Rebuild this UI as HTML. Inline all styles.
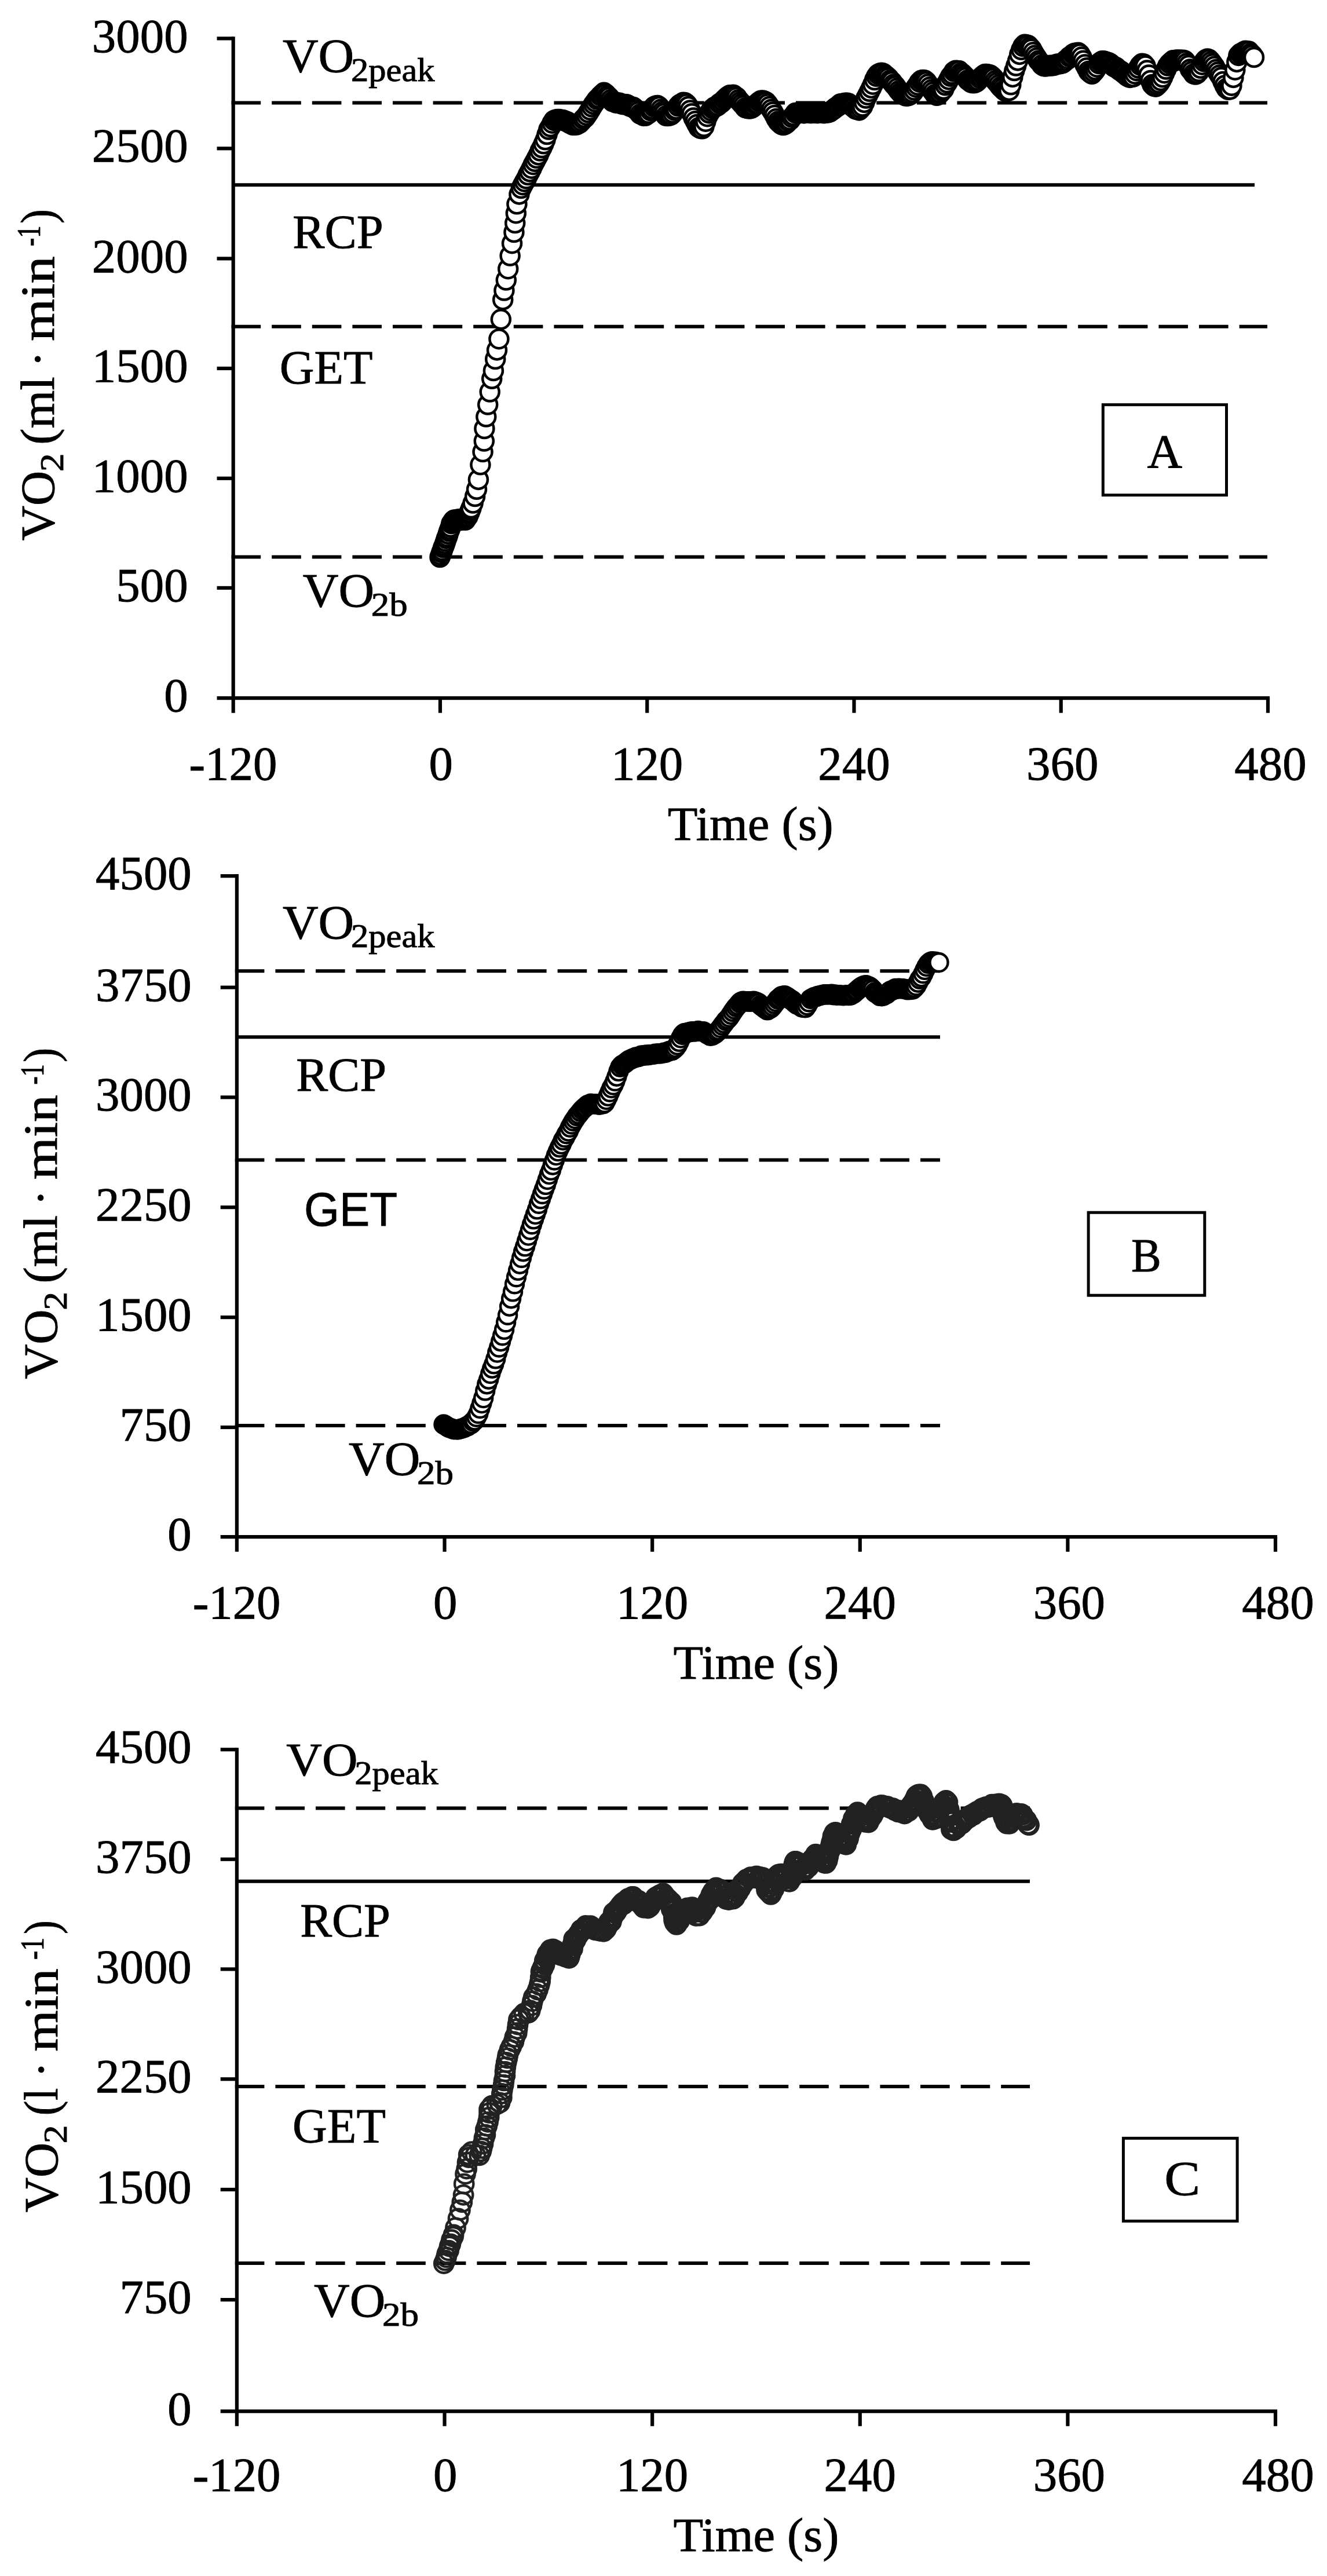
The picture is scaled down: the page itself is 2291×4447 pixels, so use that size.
<!DOCTYPE html>
<html lang="en"><head><meta charset="utf-8"><title>VO2 kinetics</title>
<style>html,body{margin:0;padding:0;background:#fff}svg text{white-space:pre}</style></head>
<body>
<svg width="2291" height="4447" viewBox="0 0 2291 4447" style="display:block;filter:blur(0.75px)">
<rect width="2291" height="4447" fill="#fff"/>
<line x1="402.7" y1="63.3" x2="402.7" y2="1230.7" stroke="#000" stroke-width="6.2"/>
<line x1="374.5" y1="1205.1" x2="2192.1" y2="1205.1" stroke="#000" stroke-width="6.2"/>
<line x1="374.5" y1="66.4" x2="402.7" y2="66.4" stroke="#000" stroke-width="6.2"/>
<line x1="374.5" y1="256.3" x2="402.7" y2="256.3" stroke="#000" stroke-width="6.2"/>
<line x1="374.5" y1="446.4" x2="402.7" y2="446.4" stroke="#000" stroke-width="6.2"/>
<line x1="374.5" y1="636" x2="402.7" y2="636" stroke="#000" stroke-width="6.2"/>
<line x1="374.5" y1="825.8" x2="402.7" y2="825.8" stroke="#000" stroke-width="6.2"/>
<line x1="374.5" y1="1014.9" x2="402.7" y2="1014.9" stroke="#000" stroke-width="6.2"/>
<line x1="759.96" y1="1205.1" x2="759.96" y2="1230.7" stroke="#000" stroke-width="6.2"/>
<line x1="1117.22" y1="1205.1" x2="1117.22" y2="1230.7" stroke="#000" stroke-width="6.2"/>
<line x1="1474.48" y1="1205.1" x2="1474.48" y2="1230.7" stroke="#000" stroke-width="6.2"/>
<line x1="1831.74" y1="1205.1" x2="1831.74" y2="1230.7" stroke="#000" stroke-width="6.2"/>
<line x1="2189" y1="1205.1" x2="2189" y2="1230.7" stroke="#000" stroke-width="6.2"/>
<line x1="399.6" y1="177.5" x2="2188" y2="177.5" stroke="#000" stroke-width="6" stroke-dasharray="50.6 19"/>
<line x1="402.7" y1="319.3" x2="2166" y2="319.3" stroke="#000" stroke-width="6"/>
<line x1="399.6" y1="563.7" x2="2188" y2="563.7" stroke="#000" stroke-width="6" stroke-dasharray="50.6 19"/>
<line x1="399.6" y1="961.5" x2="2188" y2="961.5" stroke="#000" stroke-width="6" stroke-dasharray="50.6 19"/>
<text transform="translate(158.86,89.58) scale(1.0079,1)" font-size="82.22" font-family='"Liberation Serif", serif' stroke="#000" stroke-width="0.9">3000</text>
<text transform="translate(158.86,279.48) scale(1.0079,1)" font-size="82.22" font-family='"Liberation Serif", serif' stroke="#000" stroke-width="0.9">2500</text>
<text transform="translate(158.86,469.58) scale(1.0079,1)" font-size="82.22" font-family='"Liberation Serif", serif' stroke="#000" stroke-width="0.9">2000</text>
<text transform="translate(158.86,659.18) scale(1.0079,1)" font-size="82.22" font-family='"Liberation Serif", serif' stroke="#000" stroke-width="0.9">1500</text>
<text transform="translate(158.86,848.98) scale(1.0079,1)" font-size="82.22" font-family='"Liberation Serif", serif' stroke="#000" stroke-width="0.9">1000</text>
<text transform="translate(200.3,1038.08) scale(1.0079,1)" font-size="82.22" font-family='"Liberation Serif", serif' stroke="#000" stroke-width="0.9">500</text>
<text transform="translate(283.17,1228.28) scale(1.0079,1)" font-size="82.22" font-family='"Liberation Serif", serif' stroke="#000" stroke-width="0.9">0</text>
<text transform="translate(326.47,1345.68) scale(1.0079,1)" font-size="82.22" font-family='"Liberation Serif", serif' stroke="#000" stroke-width="0.9">-120</text>
<text transform="translate(740.44,1345.68) scale(1.0079,1)" font-size="82.22" font-family='"Liberation Serif", serif' stroke="#000" stroke-width="0.9">0</text>
<text transform="translate(1054.99,1345.68) scale(1.0079,1)" font-size="82.22" font-family='"Liberation Serif", serif' stroke="#000" stroke-width="0.9">120</text>
<text transform="translate(1412.32,1345.68) scale(1.0079,1)" font-size="82.22" font-family='"Liberation Serif", serif' stroke="#000" stroke-width="0.9">240</text>
<text transform="translate(1772.07,1345.68) scale(1.0079,1)" font-size="82.22" font-family='"Liberation Serif", serif' stroke="#000" stroke-width="0.9">360</text>
<text transform="translate(2131.37,1345.68) scale(1.0079,1)" font-size="82.22" font-family='"Liberation Serif", serif' stroke="#000" stroke-width="0.9">480</text>
<text transform="translate(1152.87,1449.5) scale(1.0259,1)" font-size="82.44" font-family='"Liberation Serif", serif' fill="#000" stroke="#000" stroke-width="0.9">Time (s)</text>
<text transform="translate(487.95,124.4) scale(1.0437,1)" font-size="81.81" font-family='"Liberation Serif", serif' fill="#000" stroke="#000" stroke-width="0.9">VO</text>
<text transform="translate(605.97,139.9) scale(1.0788,1)" font-size="56.15" font-family='"Liberation Serif", serif' fill="#000" stroke="#000" stroke-width="0.9">2peak</text>
<text transform="translate(505.32,428.2) scale(1.0096,1)" font-size="81.96" font-family='"Liberation Serif", serif' fill="#000" stroke="#000" stroke-width="0.9">RCP</text>
<text transform="translate(482.79,662) scale(0.9992,1)" font-size="82.72" font-family='"Liberation Serif", serif' fill="#000" stroke="#000" stroke-width="0.9">GET</text>
<text transform="translate(522.75,1047.2) scale(1.0418,1)" font-size="81.96" font-family='"Liberation Serif", serif' fill="#000" stroke="#000" stroke-width="0.9">VO</text>
<text transform="translate(640.67,1062.9) scale(1.1219,1)" font-size="56.15" font-family='"Liberation Serif", serif' fill="#000" stroke="#000" stroke-width="0.9">2b</text>
<text transform="translate(92.7,933.13) rotate(-90) scale(1.0175,1)" font-size="81.87" font-family='"Liberation Serif", serif' stroke="#000" stroke-width="0.9">VO</text>
<text transform="translate(109.3,814.17) rotate(-90) scale(1.1345,1)" font-size="56.19" font-family='"Liberation Serif", serif' stroke="#000" stroke-width="0.9">2</text>
<text transform="translate(92.7,767.71) rotate(-90) scale(1.0335,1)" font-size="81.87" font-family='"Liberation Serif", serif' stroke="#000" stroke-width="0.9">(ml</text>
<text transform="translate(92.7,633.58) rotate(-90) scale(0.9979,1)" font-size="81.87" font-family='"Liberation Serif", serif' stroke="#000" stroke-width="0.9">·</text>
<text transform="translate(92.7,588.88) rotate(-90) scale(1.1507,1)" font-size="81.87" font-family='"Liberation Serif", serif' stroke="#000" stroke-width="0.9">min</text>
<text transform="translate(69.2,424.9) rotate(-90) scale(0.7578,1)" font-size="56.19" font-family='"Liberation Serif", serif' stroke="#000" stroke-width="0.9">-1</text>
<text transform="translate(92.7,386.04) rotate(-90) scale(0.9155,1)" font-size="81.87" font-family='"Liberation Serif", serif' stroke="#000" stroke-width="0.9">)</text>
<g fill="#fff" stroke="#000" stroke-width="4.5">
<circle cx="759.5" cy="962.0" r="16"/><circle cx="760.9" cy="958.2" r="16"/><circle cx="762.3" cy="953.9" r="16"/><circle cx="763.8" cy="950.2" r="16"/><circle cx="765.2" cy="945.4" r="16"/><circle cx="766.6" cy="942.6" r="16"/><circle cx="768.0" cy="938.7" r="16"/><circle cx="769.4" cy="934.5" r="16"/><circle cx="770.8" cy="929.7" r="16"/><circle cx="772.3" cy="926.5" r="16"/><circle cx="773.7" cy="921.8" r="16"/><circle cx="775.1" cy="917.1" r="16"/><circle cx="776.5" cy="914.0" r="16"/><circle cx="777.9" cy="909.8" r="16"/><circle cx="779.3" cy="904.0" r="16"/><circle cx="780.8" cy="902.4" r="16"/><circle cx="782.2" cy="899.6" r="16"/><circle cx="783.6" cy="897.9" r="16"/><circle cx="785.0" cy="897.4" r="16"/><circle cx="786.4" cy="898.0" r="16"/><circle cx="787.9" cy="897.4" r="16"/><circle cx="789.3" cy="897.7" r="16"/><circle cx="790.7" cy="897.5" r="16"/><circle cx="792.1" cy="896.3" r="16"/><circle cx="793.5" cy="897.6" r="16"/><circle cx="794.9" cy="898.0" r="16"/><circle cx="796.4" cy="897.9" r="16"/><circle cx="797.8" cy="897.2" r="16"/><circle cx="799.2" cy="896.1" r="16"/><circle cx="800.6" cy="896.0" r="16"/><circle cx="802.0" cy="896.3" r="16"/><circle cx="803.4" cy="897.8" r="16"/><circle cx="804.9" cy="895.3" r="16"/><circle cx="806.3" cy="893.1" r="16"/><circle cx="807.7" cy="891.4" r="16"/><circle cx="809.1" cy="887.4" r="16"/><circle cx="810.5" cy="884.7" r="16"/><circle cx="812.0" cy="880.8" r="16"/><circle cx="813.5" cy="877.0" r="16"/><circle cx="816.6" cy="868.6" r="16"/><circle cx="820.1" cy="857.0" r="16"/><circle cx="823.0" cy="844.8" r="16"/><circle cx="825.9" cy="827.9" r="16"/><circle cx="829.4" cy="802.3" r="16"/><circle cx="833.5" cy="780.1" r="16"/><circle cx="835.8" cy="761.5" r="16"/><circle cx="836.4" cy="740.0" r="16"/><circle cx="839.3" cy="719.6" r="16"/><circle cx="842.2" cy="698.6" r="16"/><circle cx="845.7" cy="676.5" r="16"/><circle cx="849.2" cy="653.8" r="16"/><circle cx="851.9" cy="640.0" r="16"/><circle cx="855.2" cy="620.0" r="16"/><circle cx="858.0" cy="604.4" r="16"/><circle cx="861.4" cy="585.2" r="16"/><circle cx="864.8" cy="551.3" r="16"/><circle cx="868.2" cy="517.4" r="16"/><circle cx="870.4" cy="501.5" r="16"/><circle cx="873.8" cy="483.5" r="16"/><circle cx="877.2" cy="464.2" r="16"/><circle cx="880.6" cy="441.6" r="16"/><circle cx="884.0" cy="420.2" r="16"/><circle cx="887.4" cy="401.0" r="16"/><circle cx="889.2" cy="385.1" r="16"/><circle cx="890.8" cy="368.2" r="16"/><circle cx="892.4" cy="352.3" r="16"/><circle cx="896.4" cy="335.4" r="16"/><circle cx="899.8" cy="325.0" r="16"/><circle cx="902.8" cy="319.2" r="16"/><circle cx="905.8" cy="313.7" r="16"/><circle cx="908.7" cy="308.6" r="16"/><circle cx="911.7" cy="302.0" r="16"/><circle cx="914.7" cy="296.4" r="16"/><circle cx="917.7" cy="290.7" r="16"/><circle cx="920.6" cy="284.2" r="16"/><circle cx="923.6" cy="278.8" r="16"/><circle cx="926.6" cy="273.1" r="16"/><circle cx="929.6" cy="267.4" r="16"/><circle cx="932.5" cy="260.5" r="16"/><circle cx="935.5" cy="255.1" r="16"/><circle cx="938.5" cy="248.3" r="16"/><circle cx="941.5" cy="241.3" r="16"/><circle cx="944.5" cy="232.1" r="16"/><circle cx="947.4" cy="223.5" r="16"/><circle cx="950.4" cy="218.8" r="16"/><circle cx="953.4" cy="212.7" r="16"/><circle cx="956.4" cy="207.9" r="16"/><circle cx="959.3" cy="206.7" r="16"/><circle cx="962.3" cy="206.0" r="16"/><circle cx="965.3" cy="206.1" r="16"/><circle cx="968.3" cy="207.4" r="16"/><circle cx="971.3" cy="207.0" r="16"/><circle cx="974.2" cy="208.2" r="16"/><circle cx="977.2" cy="209.5" r="16"/><circle cx="980.2" cy="210.6" r="16"/><circle cx="983.2" cy="212.9" r="16"/><circle cx="986.1" cy="214.1" r="16"/><circle cx="989.1" cy="215.8" r="16"/><circle cx="992.1" cy="215.6" r="16"/><circle cx="995.1" cy="215.5" r="16"/><circle cx="998.0" cy="214.0" r="16"/><circle cx="1001.0" cy="212.3" r="16"/><circle cx="1004.0" cy="209.2" r="16"/><circle cx="1007.0" cy="205.6" r="16"/><circle cx="1010.0" cy="203.2" r="16"/><circle cx="1012.9" cy="199.1" r="16"/><circle cx="1015.9" cy="194.5" r="16"/><circle cx="1018.9" cy="189.8" r="16"/><circle cx="1021.9" cy="184.6" r="16"/><circle cx="1024.8" cy="180.0" r="16"/><circle cx="1027.8" cy="175.9" r="16"/><circle cx="1030.8" cy="171.6" r="16"/><circle cx="1033.8" cy="169.3" r="16"/><circle cx="1036.7" cy="165.4" r="16"/><circle cx="1039.7" cy="162.7" r="16"/><circle cx="1042.7" cy="159.8" r="16"/><circle cx="1045.7" cy="162.0" r="16"/><circle cx="1048.7" cy="165.3" r="16"/><circle cx="1051.6" cy="168.0" r="16"/><circle cx="1054.6" cy="172.0" r="16"/><circle cx="1057.6" cy="175.3" r="16"/><circle cx="1060.6" cy="175.7" r="16"/><circle cx="1063.5" cy="177.7" r="16"/><circle cx="1066.5" cy="177.5" r="16"/><circle cx="1069.5" cy="177.7" r="16"/><circle cx="1072.5" cy="179.3" r="16"/><circle cx="1075.5" cy="180.2" r="16"/><circle cx="1078.4" cy="179.9" r="16"/><circle cx="1081.4" cy="180.3" r="16"/><circle cx="1084.4" cy="181.6" r="16"/><circle cx="1087.4" cy="183.7" r="16"/><circle cx="1090.3" cy="184.4" r="16"/><circle cx="1093.3" cy="185.0" r="16"/><circle cx="1096.3" cy="187.6" r="16"/><circle cx="1099.3" cy="190.1" r="16"/><circle cx="1102.2" cy="192.9" r="16"/><circle cx="1105.2" cy="196.9" r="16"/><circle cx="1108.2" cy="197.9" r="16"/><circle cx="1111.2" cy="199.9" r="16"/><circle cx="1114.2" cy="199.8" r="16"/><circle cx="1117.1" cy="197.7" r="16"/><circle cx="1120.1" cy="195.8" r="16"/><circle cx="1123.1" cy="191.1" r="16"/><circle cx="1126.1" cy="188.4" r="16"/><circle cx="1129.0" cy="184.3" r="16"/><circle cx="1132.0" cy="182.8" r="16"/><circle cx="1135.0" cy="182.1" r="16"/><circle cx="1138.0" cy="184.1" r="16"/><circle cx="1141.0" cy="188.8" r="16"/><circle cx="1143.9" cy="192.7" r="16"/><circle cx="1146.9" cy="195.8" r="16"/><circle cx="1149.9" cy="199.9" r="16"/><circle cx="1152.9" cy="200.0" r="16"/><circle cx="1155.8" cy="199.6" r="16"/><circle cx="1158.8" cy="198.4" r="16"/><circle cx="1161.8" cy="195.1" r="16"/><circle cx="1164.8" cy="190.6" r="16"/><circle cx="1167.7" cy="188.4" r="16"/><circle cx="1170.7" cy="183.3" r="16"/><circle cx="1173.7" cy="180.2" r="16"/><circle cx="1176.7" cy="178.7" r="16"/><circle cx="1179.7" cy="176.8" r="16"/><circle cx="1182.6" cy="177.3" r="16"/><circle cx="1185.6" cy="179.6" r="16"/><circle cx="1188.6" cy="184.0" r="16"/><circle cx="1191.6" cy="190.5" r="16"/><circle cx="1194.5" cy="196.2" r="16"/><circle cx="1197.5" cy="203.4" r="16"/><circle cx="1200.5" cy="209.3" r="16"/><circle cx="1203.5" cy="215.0" r="16"/><circle cx="1206.4" cy="220.2" r="16"/><circle cx="1209.4" cy="221.9" r="16"/><circle cx="1212.4" cy="222.3" r="16"/><circle cx="1215.4" cy="218.5" r="16"/><circle cx="1218.4" cy="209.7" r="16"/><circle cx="1221.3" cy="201.2" r="16"/><circle cx="1224.3" cy="195.4" r="16"/><circle cx="1227.3" cy="191.2" r="16"/><circle cx="1230.3" cy="187.4" r="16"/><circle cx="1233.2" cy="185.1" r="16"/><circle cx="1236.2" cy="184.0" r="16"/><circle cx="1239.2" cy="182.4" r="16"/><circle cx="1242.2" cy="178.7" r="16"/><circle cx="1245.2" cy="177.5" r="16"/><circle cx="1248.1" cy="174.6" r="16"/><circle cx="1251.1" cy="171.4" r="16"/><circle cx="1254.1" cy="168.6" r="16"/><circle cx="1257.1" cy="165.9" r="16"/><circle cx="1260.0" cy="164.2" r="16"/><circle cx="1263.0" cy="165.0" r="16"/><circle cx="1266.0" cy="163.7" r="16"/><circle cx="1269.0" cy="166.1" r="16"/><circle cx="1271.9" cy="167.9" r="16"/><circle cx="1274.9" cy="172.3" r="16"/><circle cx="1277.9" cy="175.7" r="16"/><circle cx="1280.9" cy="179.0" r="16"/><circle cx="1283.9" cy="182.3" r="16"/><circle cx="1286.8" cy="186.2" r="16"/><circle cx="1289.8" cy="186.8" r="16"/><circle cx="1292.8" cy="187.5" r="16"/><circle cx="1295.8" cy="187.3" r="16"/><circle cx="1298.7" cy="186.1" r="16"/><circle cx="1301.7" cy="183.5" r="16"/><circle cx="1304.7" cy="180.4" r="16"/><circle cx="1307.7" cy="179.1" r="16"/><circle cx="1310.6" cy="175.7" r="16"/><circle cx="1313.6" cy="173.8" r="16"/><circle cx="1316.6" cy="173.6" r="16"/><circle cx="1319.6" cy="174.5" r="16"/><circle cx="1322.6" cy="175.9" r="16"/><circle cx="1325.5" cy="179.4" r="16"/><circle cx="1328.5" cy="183.9" r="16"/><circle cx="1331.5" cy="189.1" r="16"/><circle cx="1334.5" cy="193.4" r="16"/><circle cx="1337.4" cy="199.0" r="16"/><circle cx="1340.4" cy="204.9" r="16"/><circle cx="1343.4" cy="209.5" r="16"/><circle cx="1346.4" cy="212.5" r="16"/><circle cx="1349.4" cy="215.1" r="16"/><circle cx="1352.3" cy="216.1" r="16"/><circle cx="1355.3" cy="214.8" r="16"/><circle cx="1358.3" cy="212.5" r="16"/><circle cx="1361.3" cy="209.2" r="16"/><circle cx="1364.2" cy="207.0" r="16"/><circle cx="1367.2" cy="202.7" r="16"/><circle cx="1370.2" cy="199.5" r="16"/><circle cx="1373.2" cy="195.1" r="16"/><circle cx="1376.1" cy="194.8" r="16"/><circle cx="1379.1" cy="194.5" r="16"/><circle cx="1382.1" cy="194.9" r="16"/><circle cx="1385.1" cy="194.2" r="16"/><circle cx="1388.1" cy="195.4" r="16"/><circle cx="1391.0" cy="193.7" r="16"/><circle cx="1394.0" cy="194.6" r="16"/><circle cx="1397.0" cy="194.9" r="16"/><circle cx="1400.0" cy="195.2" r="16"/><circle cx="1402.9" cy="194.9" r="16"/><circle cx="1405.9" cy="194.9" r="16"/><circle cx="1408.9" cy="195.0" r="16"/><circle cx="1411.9" cy="195.2" r="16"/><circle cx="1414.8" cy="194.2" r="16"/><circle cx="1417.8" cy="194.8" r="16"/><circle cx="1420.8" cy="195.2" r="16"/><circle cx="1423.8" cy="195.2" r="16"/><circle cx="1426.8" cy="194.3" r="16"/><circle cx="1429.7" cy="194.4" r="16"/><circle cx="1432.7" cy="193.4" r="16"/><circle cx="1435.7" cy="191.2" r="16"/><circle cx="1438.7" cy="189.2" r="16"/><circle cx="1441.6" cy="186.6" r="16"/><circle cx="1444.6" cy="184.7" r="16"/><circle cx="1447.6" cy="182.5" r="16"/><circle cx="1450.6" cy="179.5" r="16"/><circle cx="1453.6" cy="178.9" r="16"/><circle cx="1456.5" cy="178.4" r="16"/><circle cx="1459.5" cy="177.7" r="16"/><circle cx="1462.5" cy="177.8" r="16"/><circle cx="1465.5" cy="178.7" r="16"/><circle cx="1468.4" cy="181.4" r="16"/><circle cx="1471.4" cy="183.6" r="16"/><circle cx="1474.4" cy="185.8" r="16"/><circle cx="1477.4" cy="188.7" r="16"/><circle cx="1480.3" cy="188.8" r="16"/><circle cx="1483.3" cy="190.4" r="16"/><circle cx="1486.3" cy="187.1" r="16"/><circle cx="1489.3" cy="183.5" r="16"/><circle cx="1492.3" cy="176.9" r="16"/><circle cx="1495.2" cy="169.5" r="16"/><circle cx="1498.2" cy="163.8" r="16"/><circle cx="1501.2" cy="157.8" r="16"/><circle cx="1504.2" cy="151.9" r="16"/><circle cx="1507.1" cy="145.7" r="16"/><circle cx="1510.1" cy="138.0" r="16"/><circle cx="1513.1" cy="131.8" r="16"/><circle cx="1516.1" cy="128.0" r="16"/><circle cx="1519.1" cy="126.5" r="16"/><circle cx="1522.0" cy="125.7" r="16"/><circle cx="1525.0" cy="126.7" r="16"/><circle cx="1528.0" cy="129.8" r="16"/><circle cx="1531.0" cy="131.8" r="16"/><circle cx="1533.9" cy="134.4" r="16"/><circle cx="1536.9" cy="138.5" r="16"/><circle cx="1539.9" cy="141.1" r="16"/><circle cx="1542.9" cy="145.5" r="16"/><circle cx="1545.8" cy="148.4" r="16"/><circle cx="1548.8" cy="152.6" r="16"/><circle cx="1551.8" cy="156.7" r="16"/><circle cx="1554.8" cy="160.0" r="16"/><circle cx="1557.8" cy="162.6" r="16"/><circle cx="1560.7" cy="163.8" r="16"/><circle cx="1563.7" cy="165.6" r="16"/><circle cx="1566.7" cy="165.7" r="16"/><circle cx="1569.7" cy="164.6" r="16"/><circle cx="1572.6" cy="162.8" r="16"/><circle cx="1575.6" cy="159.9" r="16"/><circle cx="1578.6" cy="155.6" r="16"/><circle cx="1581.6" cy="150.7" r="16"/><circle cx="1584.5" cy="146.7" r="16"/><circle cx="1587.5" cy="141.7" r="16"/><circle cx="1590.5" cy="138.7" r="16"/><circle cx="1593.5" cy="137.9" r="16"/><circle cx="1596.5" cy="138.4" r="16"/><circle cx="1599.4" cy="140.9" r="16"/><circle cx="1602.4" cy="145.2" r="16"/><circle cx="1605.4" cy="150.2" r="16"/><circle cx="1608.4" cy="154.8" r="16"/><circle cx="1611.3" cy="158.8" r="16"/><circle cx="1614.3" cy="163.0" r="16"/><circle cx="1617.3" cy="164.8" r="16"/><circle cx="1620.3" cy="163.4" r="16"/><circle cx="1623.3" cy="160.5" r="16"/><circle cx="1626.2" cy="157.0" r="16"/><circle cx="1629.2" cy="154.0" r="16"/><circle cx="1632.2" cy="147.3" r="16"/><circle cx="1635.2" cy="143.1" r="16"/><circle cx="1638.1" cy="137.4" r="16"/><circle cx="1641.1" cy="131.8" r="16"/><circle cx="1644.1" cy="128.3" r="16"/><circle cx="1647.1" cy="123.5" r="16"/><circle cx="1650.0" cy="121.7" r="16"/><circle cx="1653.0" cy="122.0" r="16"/><circle cx="1656.0" cy="122.3" r="16"/><circle cx="1659.0" cy="125.9" r="16"/><circle cx="1662.0" cy="127.6" r="16"/><circle cx="1664.9" cy="130.7" r="16"/><circle cx="1667.9" cy="133.8" r="16"/><circle cx="1670.9" cy="138.0" r="16"/><circle cx="1673.9" cy="140.3" r="16"/><circle cx="1676.8" cy="142.5" r="16"/><circle cx="1679.8" cy="143.3" r="16"/><circle cx="1682.8" cy="143.0" r="16"/><circle cx="1685.8" cy="141.6" r="16"/><circle cx="1688.7" cy="138.8" r="16"/><circle cx="1691.7" cy="135.2" r="16"/><circle cx="1694.7" cy="133.0" r="16"/><circle cx="1697.7" cy="130.0" r="16"/><circle cx="1700.7" cy="127.9" r="16"/><circle cx="1703.6" cy="128.0" r="16"/><circle cx="1706.6" cy="128.8" r="16"/><circle cx="1709.6" cy="129.4" r="16"/><circle cx="1712.6" cy="131.9" r="16"/><circle cx="1715.5" cy="135.0" r="16"/><circle cx="1718.5" cy="139.1" r="16"/><circle cx="1721.5" cy="142.4" r="16"/><circle cx="1724.5" cy="146.3" r="16"/><circle cx="1727.5" cy="150.1" r="16"/><circle cx="1730.4" cy="152.6" r="16"/><circle cx="1733.4" cy="155.9" r="16"/><circle cx="1736.4" cy="157.9" r="16"/><circle cx="1739.4" cy="157.2" r="16"/><circle cx="1742.3" cy="156.0" r="16"/><circle cx="1745.3" cy="146.3" r="16"/><circle cx="1748.3" cy="132.9" r="16"/><circle cx="1751.3" cy="122.1" r="16"/><circle cx="1754.2" cy="113.6" r="16"/><circle cx="1757.2" cy="104.4" r="16"/><circle cx="1760.2" cy="93.9" r="16"/><circle cx="1763.2" cy="85.8" r="16"/><circle cx="1766.2" cy="80.0" r="16"/><circle cx="1769.1" cy="76.7" r="16"/><circle cx="1772.1" cy="77.2" r="16"/><circle cx="1775.1" cy="78.2" r="16"/><circle cx="1778.1" cy="81.6" r="16"/><circle cx="1781.0" cy="84.8" r="16"/><circle cx="1784.0" cy="90.3" r="16"/><circle cx="1787.0" cy="95.4" r="16"/><circle cx="1790.0" cy="99.9" r="16"/><circle cx="1792.9" cy="104.7" r="16"/><circle cx="1795.9" cy="107.7" r="16"/><circle cx="1798.9" cy="112.0" r="16"/><circle cx="1801.9" cy="114.0" r="16"/><circle cx="1804.9" cy="114.5" r="16"/><circle cx="1807.8" cy="113.6" r="16"/><circle cx="1810.8" cy="113.8" r="16"/><circle cx="1813.8" cy="112.7" r="16"/><circle cx="1816.8" cy="113.4" r="16"/><circle cx="1819.7" cy="112.8" r="16"/><circle cx="1822.7" cy="111.4" r="16"/><circle cx="1825.7" cy="110.4" r="16"/><circle cx="1828.7" cy="110.4" r="16"/><circle cx="1831.7" cy="109.9" r="16"/><circle cx="1834.6" cy="109.1" r="16"/><circle cx="1837.6" cy="106.6" r="16"/><circle cx="1840.6" cy="103.4" r="16"/><circle cx="1843.6" cy="102.1" r="16"/><circle cx="1846.5" cy="98.0" r="16"/><circle cx="1849.5" cy="96.7" r="16"/><circle cx="1852.5" cy="93.3" r="16"/><circle cx="1855.5" cy="91.8" r="16"/><circle cx="1858.4" cy="91.7" r="16"/><circle cx="1861.4" cy="90.7" r="16"/><circle cx="1864.4" cy="93.3" r="16"/><circle cx="1867.4" cy="98.6" r="16"/><circle cx="1870.4" cy="104.8" r="16"/><circle cx="1873.3" cy="111.4" r="16"/><circle cx="1876.3" cy="117.3" r="16"/><circle cx="1879.3" cy="123.0" r="16"/><circle cx="1882.3" cy="125.8" r="16"/><circle cx="1885.2" cy="127.8" r="16"/><circle cx="1888.2" cy="124.4" r="16"/><circle cx="1891.2" cy="120.5" r="16"/><circle cx="1894.2" cy="115.7" r="16"/><circle cx="1897.2" cy="110.1" r="16"/><circle cx="1900.1" cy="106.9" r="16"/><circle cx="1903.1" cy="105.3" r="16"/><circle cx="1906.1" cy="105.4" r="16"/><circle cx="1909.1" cy="106.8" r="16"/><circle cx="1912.0" cy="107.5" r="16"/><circle cx="1915.0" cy="108.6" r="16"/><circle cx="1918.0" cy="110.6" r="16"/><circle cx="1921.0" cy="113.4" r="16"/><circle cx="1923.9" cy="115.5" r="16"/><circle cx="1926.9" cy="116.2" r="16"/><circle cx="1929.9" cy="119.2" r="16"/><circle cx="1932.9" cy="121.4" r="16"/><circle cx="1935.9" cy="123.0" r="16"/><circle cx="1938.8" cy="125.7" r="16"/><circle cx="1941.8" cy="127.7" r="16"/><circle cx="1944.8" cy="130.7" r="16"/><circle cx="1947.8" cy="132.5" r="16"/><circle cx="1950.7" cy="133.9" r="16"/><circle cx="1953.7" cy="133.1" r="16"/><circle cx="1956.7" cy="132.6" r="16"/><circle cx="1959.7" cy="127.7" r="16"/><circle cx="1962.6" cy="122.2" r="16"/><circle cx="1965.6" cy="117.6" r="16"/><circle cx="1968.6" cy="112.6" r="16"/><circle cx="1971.6" cy="109.8" r="16"/><circle cx="1974.6" cy="110.5" r="16"/><circle cx="1977.5" cy="113.6" r="16"/><circle cx="1980.5" cy="121.4" r="16"/><circle cx="1983.5" cy="129.6" r="16"/><circle cx="1986.5" cy="138.9" r="16"/><circle cx="1989.4" cy="145.9" r="16"/><circle cx="1992.4" cy="148.9" r="16"/><circle cx="1995.4" cy="149.7" r="16"/><circle cx="1998.4" cy="146.9" r="16"/><circle cx="2001.4" cy="143.6" r="16"/><circle cx="2004.3" cy="139.1" r="16"/><circle cx="2007.3" cy="133.3" r="16"/><circle cx="2010.3" cy="126.2" r="16"/><circle cx="2013.3" cy="119.6" r="16"/><circle cx="2016.2" cy="113.6" r="16"/><circle cx="2019.2" cy="109.7" r="16"/><circle cx="2022.2" cy="107.0" r="16"/><circle cx="2025.2" cy="104.3" r="16"/><circle cx="2028.1" cy="105.2" r="16"/><circle cx="2031.1" cy="103.6" r="16"/><circle cx="2034.1" cy="103.7" r="16"/><circle cx="2037.1" cy="103.6" r="16"/><circle cx="2040.1" cy="104.4" r="16"/><circle cx="2043.0" cy="103.7" r="16"/><circle cx="2046.0" cy="105.1" r="16"/><circle cx="2049.0" cy="109.2" r="16"/><circle cx="2052.0" cy="113.1" r="16"/><circle cx="2054.9" cy="119.5" r="16"/><circle cx="2057.9" cy="123.2" r="16"/><circle cx="2060.9" cy="127.5" r="16"/><circle cx="2063.9" cy="128.5" r="16"/><circle cx="2066.8" cy="127.0" r="16"/><circle cx="2069.8" cy="123.5" r="16"/><circle cx="2072.8" cy="117.8" r="16"/><circle cx="2075.8" cy="111.7" r="16"/><circle cx="2078.8" cy="106.4" r="16"/><circle cx="2081.7" cy="103.0" r="16"/><circle cx="2084.7" cy="101.4" r="16"/><circle cx="2087.7" cy="102.8" r="16"/><circle cx="2090.7" cy="106.4" r="16"/><circle cx="2093.6" cy="110.3" r="16"/><circle cx="2096.6" cy="114.7" r="16"/><circle cx="2099.6" cy="120.1" r="16"/><circle cx="2102.6" cy="124.6" r="16"/><circle cx="2105.6" cy="129.5" r="16"/><circle cx="2108.5" cy="133.7" r="16"/><circle cx="2111.5" cy="141.0" r="16"/><circle cx="2114.5" cy="147.4" r="16"/><circle cx="2117.5" cy="152.7" r="16"/><circle cx="2120.4" cy="154.8" r="16"/><circle cx="2123.4" cy="154.3" r="16"/><circle cx="2126.4" cy="147.7" r="16"/><circle cx="2129.4" cy="133.9" r="16"/><circle cx="2132.3" cy="120.7" r="16"/><circle cx="2135.3" cy="106.9" r="16"/><circle cx="2138.3" cy="95.9" r="16"/><circle cx="2141.3" cy="92.6" r="16"/><circle cx="2144.3" cy="91.6" r="16"/><circle cx="2147.2" cy="89.2" r="16"/><circle cx="2150.2" cy="87.8" r="16"/><circle cx="2153.2" cy="88.6" r="16"/><circle cx="2156.2" cy="88.6" r="16"/><circle cx="2159.1" cy="92.2" r="16"/><circle cx="2162.1" cy="94.9" r="16"/><circle cx="2165.0" cy="99.0" r="16"/>
</g>
<rect x="1904.3" y="698.7" width="213.2" height="156" fill="#fff" stroke="#000" stroke-width="5"/>
<text transform="translate(1980.46,806.5) scale(1.0244,1)" font-size="81.97" font-family='"Liberation Serif", serif' fill="#000" stroke="#000" stroke-width="0.9">A</text>
<line x1="408.9" y1="1509.1" x2="408.9" y2="2678.8" stroke="#000" stroke-width="6.2"/>
<line x1="380.7" y1="2653.2" x2="2205.1" y2="2653.2" stroke="#000" stroke-width="6.2"/>
<line x1="380.7" y1="1512.2" x2="408.9" y2="1512.2" stroke="#000" stroke-width="6.2"/>
<line x1="380.7" y1="1704.6" x2="408.9" y2="1704.6" stroke="#000" stroke-width="6.2"/>
<line x1="380.7" y1="1894.3" x2="408.9" y2="1894.3" stroke="#000" stroke-width="6.2"/>
<line x1="380.7" y1="2084.2" x2="408.9" y2="2084.2" stroke="#000" stroke-width="6.2"/>
<line x1="380.7" y1="2274.1" x2="408.9" y2="2274.1" stroke="#000" stroke-width="6.2"/>
<line x1="380.7" y1="2464" x2="408.9" y2="2464" stroke="#000" stroke-width="6.2"/>
<line x1="767.52" y1="2653.2" x2="767.52" y2="2678.8" stroke="#000" stroke-width="6.2"/>
<line x1="1126.14" y1="2653.2" x2="1126.14" y2="2678.8" stroke="#000" stroke-width="6.2"/>
<line x1="1484.76" y1="2653.2" x2="1484.76" y2="2678.8" stroke="#000" stroke-width="6.2"/>
<line x1="1843.38" y1="2653.2" x2="1843.38" y2="2678.8" stroke="#000" stroke-width="6.2"/>
<line x1="2202" y1="2653.2" x2="2202" y2="2678.8" stroke="#000" stroke-width="6.2"/>
<line x1="405.8" y1="1676.3" x2="1623" y2="1676.3" stroke="#000" stroke-width="6" stroke-dasharray="50.6 19"/>
<line x1="408.9" y1="1790.3" x2="1623" y2="1790.3" stroke="#000" stroke-width="6"/>
<line x1="405.8" y1="2002.6" x2="1623" y2="2002.6" stroke="#000" stroke-width="6" stroke-dasharray="50.6 19"/>
<line x1="405.8" y1="2460.9" x2="1623" y2="2460.9" stroke="#000" stroke-width="6" stroke-dasharray="50.6 19"/>
<text transform="translate(165.06,1535.38) scale(1.0079,1)" font-size="82.22" font-family='"Liberation Serif", serif' stroke="#000" stroke-width="0.9">4500</text>
<text transform="translate(165.06,1727.78) scale(1.0079,1)" font-size="82.22" font-family='"Liberation Serif", serif' stroke="#000" stroke-width="0.9">3750</text>
<text transform="translate(165.06,1917.48) scale(1.0079,1)" font-size="82.22" font-family='"Liberation Serif", serif' stroke="#000" stroke-width="0.9">3000</text>
<text transform="translate(165.06,2107.38) scale(1.0079,1)" font-size="82.22" font-family='"Liberation Serif", serif' stroke="#000" stroke-width="0.9">2250</text>
<text transform="translate(165.06,2297.28) scale(1.0079,1)" font-size="82.22" font-family='"Liberation Serif", serif' stroke="#000" stroke-width="0.9">1500</text>
<text transform="translate(206.5,2487.18) scale(1.0079,1)" font-size="82.22" font-family='"Liberation Serif", serif' stroke="#000" stroke-width="0.9">750</text>
<text transform="translate(289.37,2676.38) scale(1.0079,1)" font-size="82.22" font-family='"Liberation Serif", serif' stroke="#000" stroke-width="0.9">0</text>
<text transform="translate(332.67,2793.78) scale(1.0079,1)" font-size="82.22" font-family='"Liberation Serif", serif' stroke="#000" stroke-width="0.9">-120</text>
<text transform="translate(748,2793.78) scale(1.0079,1)" font-size="82.22" font-family='"Liberation Serif", serif' stroke="#000" stroke-width="0.9">0</text>
<text transform="translate(1063.91,2793.78) scale(1.0079,1)" font-size="82.22" font-family='"Liberation Serif", serif' stroke="#000" stroke-width="0.9">120</text>
<text transform="translate(1422.6,2793.78) scale(1.0079,1)" font-size="82.22" font-family='"Liberation Serif", serif' stroke="#000" stroke-width="0.9">240</text>
<text transform="translate(1783.71,2793.78) scale(1.0079,1)" font-size="82.22" font-family='"Liberation Serif", serif' stroke="#000" stroke-width="0.9">360</text>
<text transform="translate(2144.37,2793.78) scale(1.0079,1)" font-size="82.22" font-family='"Liberation Serif", serif' stroke="#000" stroke-width="0.9">480</text>
<text transform="translate(1162.47,2897.6) scale(1.0259,1)" font-size="82.44" font-family='"Liberation Serif", serif' fill="#000" stroke="#000" stroke-width="0.9">Time (s)</text>
<text transform="translate(487.95,1619.8) scale(1.0437,1)" font-size="81.81" font-family='"Liberation Serif", serif' fill="#000" stroke="#000" stroke-width="0.9">VO</text>
<text transform="translate(605.97,1635.3) scale(1.0788,1)" font-size="56.15" font-family='"Liberation Serif", serif' fill="#000" stroke="#000" stroke-width="0.9">2peak</text>
<text transform="translate(511.33,1882.5) scale(1.0074,1)" font-size="81.81" font-family='"Liberation Serif", serif' fill="#000" stroke="#000" stroke-width="0.9">RCP</text>
<text transform="translate(525.09,2115.9) scale(0.9580,1)" font-size="81.72" font-family='"Liberation Sans", sans-serif' fill="#000" stroke="#000" stroke-width="0.9">GET</text>
<text transform="translate(602.05,2546.2) scale(1.0418,1)" font-size="81.96" font-family='"Liberation Serif", serif' fill="#000" stroke="#000" stroke-width="0.9">VO</text>
<text transform="translate(719.97,2561.6) scale(1.1219,1)" font-size="56.15" font-family='"Liberation Serif", serif' fill="#000" stroke="#000" stroke-width="0.9">2b</text>
<text transform="translate(98.3,2380.83) rotate(-90) scale(1.0175,1)" font-size="81.87" font-family='"Liberation Serif", serif' stroke="#000" stroke-width="0.9">VO</text>
<text transform="translate(114.9,2261.87) rotate(-90) scale(1.1345,1)" font-size="56.19" font-family='"Liberation Serif", serif' stroke="#000" stroke-width="0.9">2</text>
<text transform="translate(98.3,2215.41) rotate(-90) scale(1.0335,1)" font-size="81.87" font-family='"Liberation Serif", serif' stroke="#000" stroke-width="0.9">(ml</text>
<text transform="translate(98.3,2081.28) rotate(-90) scale(0.9979,1)" font-size="81.87" font-family='"Liberation Serif", serif' stroke="#000" stroke-width="0.9">·</text>
<text transform="translate(98.3,2036.58) rotate(-90) scale(1.1507,1)" font-size="81.87" font-family='"Liberation Serif", serif' stroke="#000" stroke-width="0.9">min</text>
<text transform="translate(74.8,1872.6) rotate(-90) scale(0.7578,1)" font-size="56.19" font-family='"Liberation Serif", serif' stroke="#000" stroke-width="0.9">-1</text>
<text transform="translate(98.3,1833.74) rotate(-90) scale(0.9155,1)" font-size="81.87" font-family='"Liberation Serif", serif' stroke="#000" stroke-width="0.9">)</text>
<g fill="#fff" stroke="#000" stroke-width="4.4">
<circle cx="766.0" cy="2459.0" r="15.5"/><circle cx="769.0" cy="2460.6" r="15.5"/><circle cx="772.0" cy="2462.7" r="15.5"/><circle cx="775.0" cy="2464.6" r="15.5"/><circle cx="778.0" cy="2465.4" r="15.5"/><circle cx="780.9" cy="2466.5" r="15.5"/><circle cx="783.9" cy="2467.7" r="15.5"/><circle cx="786.9" cy="2467.6" r="15.5"/><circle cx="789.9" cy="2468.1" r="15.5"/><circle cx="792.9" cy="2467.3" r="15.5"/><circle cx="795.9" cy="2466.4" r="15.5"/><circle cx="798.9" cy="2465.5" r="15.5"/><circle cx="801.9" cy="2464.6" r="15.5"/><circle cx="804.9" cy="2462.7" r="15.5"/><circle cx="807.8" cy="2461.7" r="15.5"/><circle cx="810.8" cy="2459.3" r="15.5"/><circle cx="813.8" cy="2458.1" r="15.5"/><circle cx="816.8" cy="2454.0" r="15.5"/><circle cx="819.8" cy="2451.9" r="15.5"/><circle cx="822.8" cy="2446.3" r="15.5"/><circle cx="825.8" cy="2440.5" r="15.5"/><circle cx="828.8" cy="2431.5" r="15.5"/><circle cx="831.8" cy="2422.6" r="15.5"/><circle cx="834.7" cy="2413.6" r="15.5"/><circle cx="837.7" cy="2400.9" r="15.5"/><circle cx="840.7" cy="2389.7" r="15.5"/><circle cx="843.7" cy="2381.2" r="15.5"/><circle cx="846.7" cy="2371.5" r="15.5"/><circle cx="849.7" cy="2362.2" r="15.5"/><circle cx="852.7" cy="2354.9" r="15.5"/><circle cx="855.7" cy="2345.9" r="15.5"/><circle cx="858.6" cy="2335.1" r="15.5"/><circle cx="861.6" cy="2326.0" r="15.5"/><circle cx="864.6" cy="2315.7" r="15.5"/><circle cx="867.6" cy="2305.8" r="15.5"/><circle cx="870.6" cy="2295.4" r="15.5"/><circle cx="873.6" cy="2282.8" r="15.5"/><circle cx="876.6" cy="2270.3" r="15.5"/><circle cx="879.6" cy="2255.2" r="15.5"/><circle cx="882.6" cy="2241.7" r="15.5"/><circle cx="885.5" cy="2229.9" r="15.5"/><circle cx="888.5" cy="2216.8" r="15.5"/><circle cx="891.5" cy="2204.8" r="15.5"/><circle cx="894.5" cy="2193.4" r="15.5"/><circle cx="897.5" cy="2182.2" r="15.5"/><circle cx="900.5" cy="2171.5" r="15.5"/><circle cx="903.5" cy="2160.7" r="15.5"/><circle cx="906.5" cy="2151.9" r="15.5"/><circle cx="909.5" cy="2142.6" r="15.5"/><circle cx="912.4" cy="2133.1" r="15.5"/><circle cx="915.4" cy="2123.3" r="15.5"/><circle cx="918.4" cy="2113.8" r="15.5"/><circle cx="921.4" cy="2104.9" r="15.5"/><circle cx="924.4" cy="2096.6" r="15.5"/><circle cx="927.4" cy="2087.9" r="15.5"/><circle cx="930.4" cy="2078.3" r="15.5"/><circle cx="933.4" cy="2069.9" r="15.5"/><circle cx="936.4" cy="2061.5" r="15.5"/><circle cx="939.3" cy="2053.3" r="15.5"/><circle cx="942.3" cy="2045.4" r="15.5"/><circle cx="945.3" cy="2036.6" r="15.5"/><circle cx="948.3" cy="2027.6" r="15.5"/><circle cx="951.3" cy="2020.4" r="15.5"/><circle cx="954.3" cy="2011.2" r="15.5"/><circle cx="957.3" cy="2003.0" r="15.5"/><circle cx="960.3" cy="1994.6" r="15.5"/><circle cx="963.3" cy="1987.6" r="15.5"/><circle cx="966.2" cy="1980.9" r="15.5"/><circle cx="969.2" cy="1975.4" r="15.5"/><circle cx="972.2" cy="1968.6" r="15.5"/><circle cx="975.2" cy="1963.8" r="15.5"/><circle cx="978.2" cy="1957.8" r="15.5"/><circle cx="981.2" cy="1953.1" r="15.5"/><circle cx="984.2" cy="1946.3" r="15.5"/><circle cx="987.2" cy="1941.0" r="15.5"/><circle cx="990.1" cy="1935.8" r="15.5"/><circle cx="993.1" cy="1931.6" r="15.5"/><circle cx="996.1" cy="1926.8" r="15.5"/><circle cx="999.1" cy="1923.6" r="15.5"/><circle cx="1002.1" cy="1919.4" r="15.5"/><circle cx="1005.1" cy="1915.9" r="15.5"/><circle cx="1008.1" cy="1912.9" r="15.5"/><circle cx="1011.1" cy="1910.8" r="15.5"/><circle cx="1014.1" cy="1907.8" r="15.5"/><circle cx="1017.0" cy="1907.0" r="15.5"/><circle cx="1020.0" cy="1905.1" r="15.5"/><circle cx="1023.0" cy="1906.3" r="15.5"/><circle cx="1026.0" cy="1905.6" r="15.5"/><circle cx="1029.0" cy="1905.6" r="15.5"/><circle cx="1032.0" cy="1906.7" r="15.5"/><circle cx="1035.0" cy="1907.2" r="15.5"/><circle cx="1038.0" cy="1905.9" r="15.5"/><circle cx="1041.0" cy="1905.9" r="15.5"/><circle cx="1043.9" cy="1904.0" r="15.5"/><circle cx="1046.9" cy="1898.6" r="15.5"/><circle cx="1049.9" cy="1892.4" r="15.5"/><circle cx="1052.9" cy="1885.3" r="15.5"/><circle cx="1055.9" cy="1878.6" r="15.5"/><circle cx="1058.9" cy="1873.3" r="15.5"/><circle cx="1061.9" cy="1866.5" r="15.5"/><circle cx="1064.9" cy="1858.2" r="15.5"/><circle cx="1067.9" cy="1849.4" r="15.5"/><circle cx="1070.8" cy="1842.2" r="15.5"/><circle cx="1073.8" cy="1838.8" r="15.5"/><circle cx="1076.8" cy="1837.1" r="15.5"/><circle cx="1079.8" cy="1834.9" r="15.5"/><circle cx="1082.8" cy="1832.6" r="15.5"/><circle cx="1085.8" cy="1830.1" r="15.5"/><circle cx="1088.8" cy="1829.0" r="15.5"/><circle cx="1091.8" cy="1827.5" r="15.5"/><circle cx="1094.8" cy="1826.5" r="15.5"/><circle cx="1097.7" cy="1824.9" r="15.5"/><circle cx="1100.7" cy="1825.0" r="15.5"/><circle cx="1103.7" cy="1824.1" r="15.5"/><circle cx="1106.7" cy="1822.3" r="15.5"/><circle cx="1109.7" cy="1821.9" r="15.5"/><circle cx="1112.7" cy="1822.3" r="15.5"/><circle cx="1115.7" cy="1821.0" r="15.5"/><circle cx="1118.7" cy="1821.7" r="15.5"/><circle cx="1121.7" cy="1820.7" r="15.5"/><circle cx="1124.6" cy="1820.7" r="15.5"/><circle cx="1127.6" cy="1820.4" r="15.5"/><circle cx="1130.6" cy="1819.3" r="15.5"/><circle cx="1133.6" cy="1819.1" r="15.5"/><circle cx="1136.6" cy="1818.7" r="15.5"/><circle cx="1139.6" cy="1819.0" r="15.5"/><circle cx="1142.6" cy="1818.6" r="15.5"/><circle cx="1145.6" cy="1817.1" r="15.5"/><circle cx="1148.5" cy="1817.6" r="15.5"/><circle cx="1151.5" cy="1816.1" r="15.5"/><circle cx="1154.5" cy="1814.8" r="15.5"/><circle cx="1157.5" cy="1814.0" r="15.5"/><circle cx="1160.5" cy="1813.5" r="15.5"/><circle cx="1163.5" cy="1811.3" r="15.5"/><circle cx="1166.5" cy="1808.6" r="15.5"/><circle cx="1169.5" cy="1804.2" r="15.5"/><circle cx="1172.5" cy="1798.4" r="15.5"/><circle cx="1175.4" cy="1792.1" r="15.5"/><circle cx="1178.4" cy="1786.5" r="15.5"/><circle cx="1181.4" cy="1783.6" r="15.5"/><circle cx="1184.4" cy="1783.3" r="15.5"/><circle cx="1187.4" cy="1782.6" r="15.5"/><circle cx="1190.4" cy="1781.8" r="15.5"/><circle cx="1193.4" cy="1781.0" r="15.5"/><circle cx="1196.4" cy="1780.7" r="15.5"/><circle cx="1199.4" cy="1781.0" r="15.5"/><circle cx="1202.3" cy="1780.5" r="15.5"/><circle cx="1205.3" cy="1779.4" r="15.5"/><circle cx="1208.3" cy="1780.4" r="15.5"/><circle cx="1211.3" cy="1780.7" r="15.5"/><circle cx="1214.3" cy="1780.7" r="15.5"/><circle cx="1217.3" cy="1782.4" r="15.5"/><circle cx="1220.3" cy="1784.7" r="15.5"/><circle cx="1223.3" cy="1786.3" r="15.5"/><circle cx="1226.3" cy="1788.2" r="15.5"/><circle cx="1229.2" cy="1787.7" r="15.5"/><circle cx="1232.2" cy="1786.0" r="15.5"/><circle cx="1235.2" cy="1784.3" r="15.5"/><circle cx="1238.2" cy="1781.3" r="15.5"/><circle cx="1241.2" cy="1778.7" r="15.5"/><circle cx="1244.2" cy="1774.5" r="15.5"/><circle cx="1247.2" cy="1770.3" r="15.5"/><circle cx="1250.2" cy="1766.6" r="15.5"/><circle cx="1253.2" cy="1762.3" r="15.5"/><circle cx="1256.1" cy="1759.6" r="15.5"/><circle cx="1259.1" cy="1756.1" r="15.5"/><circle cx="1262.1" cy="1751.4" r="15.5"/><circle cx="1265.1" cy="1746.7" r="15.5"/><circle cx="1268.1" cy="1742.6" r="15.5"/><circle cx="1271.1" cy="1738.4" r="15.5"/><circle cx="1274.1" cy="1735.3" r="15.5"/><circle cx="1277.1" cy="1731.4" r="15.5"/><circle cx="1280.1" cy="1729.1" r="15.5"/><circle cx="1283.0" cy="1728.3" r="15.5"/><circle cx="1286.0" cy="1728.8" r="15.5"/><circle cx="1289.0" cy="1729.0" r="15.5"/><circle cx="1292.0" cy="1728.8" r="15.5"/><circle cx="1295.0" cy="1729.4" r="15.5"/><circle cx="1298.0" cy="1728.6" r="15.5"/><circle cx="1301.0" cy="1728.2" r="15.5"/><circle cx="1304.0" cy="1729.1" r="15.5"/><circle cx="1306.9" cy="1730.2" r="15.5"/><circle cx="1309.9" cy="1731.8" r="15.5"/><circle cx="1312.9" cy="1735.2" r="15.5"/><circle cx="1315.9" cy="1737.5" r="15.5"/><circle cx="1318.9" cy="1739.8" r="15.5"/><circle cx="1321.9" cy="1741.9" r="15.5"/><circle cx="1324.9" cy="1743.9" r="15.5"/><circle cx="1327.9" cy="1741.9" r="15.5"/><circle cx="1330.9" cy="1740.5" r="15.5"/><circle cx="1333.8" cy="1737.2" r="15.5"/><circle cx="1336.8" cy="1733.3" r="15.5"/><circle cx="1339.8" cy="1729.6" r="15.5"/><circle cx="1342.8" cy="1725.3" r="15.5"/><circle cx="1345.8" cy="1723.0" r="15.5"/><circle cx="1348.8" cy="1720.0" r="15.5"/><circle cx="1351.8" cy="1719.3" r="15.5"/><circle cx="1354.8" cy="1718.8" r="15.5"/><circle cx="1357.8" cy="1720.4" r="15.5"/><circle cx="1360.7" cy="1722.3" r="15.5"/><circle cx="1363.7" cy="1724.7" r="15.5"/><circle cx="1366.7" cy="1726.1" r="15.5"/><circle cx="1369.7" cy="1728.8" r="15.5"/><circle cx="1372.7" cy="1731.8" r="15.5"/><circle cx="1375.7" cy="1733.9" r="15.5"/><circle cx="1378.7" cy="1734.7" r="15.5"/><circle cx="1381.7" cy="1736.9" r="15.5"/><circle cx="1384.7" cy="1739.0" r="15.5"/><circle cx="1387.6" cy="1739.6" r="15.5"/><circle cx="1390.6" cy="1739.8" r="15.5"/><circle cx="1393.6" cy="1735.6" r="15.5"/><circle cx="1396.6" cy="1730.0" r="15.5"/><circle cx="1399.6" cy="1724.6" r="15.5"/><circle cx="1402.6" cy="1723.2" r="15.5"/><circle cx="1405.6" cy="1721.5" r="15.5"/><circle cx="1408.6" cy="1721.1" r="15.5"/><circle cx="1411.6" cy="1719.5" r="15.5"/><circle cx="1414.5" cy="1719.0" r="15.5"/><circle cx="1417.5" cy="1718.1" r="15.5"/><circle cx="1420.5" cy="1717.5" r="15.5"/><circle cx="1423.5" cy="1716.8" r="15.5"/><circle cx="1426.5" cy="1716.7" r="15.5"/><circle cx="1429.5" cy="1717.1" r="15.5"/><circle cx="1432.5" cy="1716.6" r="15.5"/><circle cx="1435.5" cy="1716.3" r="15.5"/><circle cx="1438.4" cy="1717.7" r="15.5"/><circle cx="1441.4" cy="1717.0" r="15.5"/><circle cx="1444.4" cy="1718.2" r="15.5"/><circle cx="1447.4" cy="1717.8" r="15.5"/><circle cx="1450.4" cy="1717.7" r="15.5"/><circle cx="1453.4" cy="1718.6" r="15.5"/><circle cx="1456.4" cy="1718.8" r="15.5"/><circle cx="1459.4" cy="1718.0" r="15.5"/><circle cx="1462.4" cy="1717.8" r="15.5"/><circle cx="1465.3" cy="1718.6" r="15.5"/><circle cx="1468.3" cy="1718.3" r="15.5"/><circle cx="1471.3" cy="1716.5" r="15.5"/><circle cx="1474.3" cy="1714.7" r="15.5"/><circle cx="1477.3" cy="1711.7" r="15.5"/><circle cx="1480.3" cy="1709.5" r="15.5"/><circle cx="1483.3" cy="1706.4" r="15.5"/><circle cx="1486.3" cy="1704.3" r="15.5"/><circle cx="1489.3" cy="1702.4" r="15.5"/><circle cx="1492.2" cy="1701.2" r="15.5"/><circle cx="1495.2" cy="1700.8" r="15.5"/><circle cx="1498.2" cy="1702.3" r="15.5"/><circle cx="1501.2" cy="1703.1" r="15.5"/><circle cx="1504.2" cy="1705.7" r="15.5"/><circle cx="1507.2" cy="1708.8" r="15.5"/><circle cx="1510.2" cy="1713.0" r="15.5"/><circle cx="1513.2" cy="1715.1" r="15.5"/><circle cx="1516.2" cy="1716.7" r="15.5"/><circle cx="1519.1" cy="1719.4" r="15.5"/><circle cx="1522.1" cy="1719.8" r="15.5"/><circle cx="1525.1" cy="1719.0" r="15.5"/><circle cx="1528.1" cy="1716.9" r="15.5"/><circle cx="1531.1" cy="1715.7" r="15.5"/><circle cx="1534.1" cy="1712.9" r="15.5"/><circle cx="1537.1" cy="1710.6" r="15.5"/><circle cx="1540.1" cy="1709.8" r="15.5"/><circle cx="1543.1" cy="1708.3" r="15.5"/><circle cx="1546.0" cy="1706.4" r="15.5"/><circle cx="1549.0" cy="1707.3" r="15.5"/><circle cx="1552.0" cy="1706.1" r="15.5"/><circle cx="1555.0" cy="1706.8" r="15.5"/><circle cx="1558.0" cy="1706.7" r="15.5"/><circle cx="1561.0" cy="1707.3" r="15.5"/><circle cx="1564.0" cy="1707.7" r="15.5"/><circle cx="1567.0" cy="1708.9" r="15.5"/><circle cx="1570.0" cy="1708.5" r="15.5"/><circle cx="1572.9" cy="1708.5" r="15.5"/><circle cx="1575.9" cy="1707.9" r="15.5"/><circle cx="1578.9" cy="1705.3" r="15.5"/><circle cx="1581.9" cy="1701.8" r="15.5"/><circle cx="1584.9" cy="1696.2" r="15.5"/><circle cx="1587.9" cy="1690.4" r="15.5"/><circle cx="1590.9" cy="1686.7" r="15.5"/><circle cx="1593.9" cy="1680.8" r="15.5"/><circle cx="1596.8" cy="1674.4" r="15.5"/><circle cx="1599.8" cy="1668.6" r="15.5"/><circle cx="1602.8" cy="1663.8" r="15.5"/><circle cx="1605.8" cy="1660.9" r="15.5"/><circle cx="1608.8" cy="1659.6" r="15.5"/><circle cx="1611.8" cy="1660.1" r="15.5"/><circle cx="1614.8" cy="1660.3" r="15.5"/><circle cx="1617.8" cy="1661.2" r="15.5"/><circle cx="1621.0" cy="1661.5" r="15.5"/>
</g>
<rect x="1879.1" y="2093.2" width="200.7" height="143" fill="#fff" stroke="#000" stroke-width="5"/>
<text transform="translate(1953.07,2195) scale(0.9345,1)" font-size="83.05" font-family='"Liberation Serif", serif' fill="#000" stroke="#000" stroke-width="0.9">B</text>
<line x1="408.9" y1="3017.2" x2="408.9" y2="4188.3" stroke="#000" stroke-width="6.2"/>
<line x1="380.7" y1="4162.7" x2="2205.1" y2="4162.7" stroke="#000" stroke-width="6.2"/>
<line x1="380.7" y1="3020.3" x2="408.9" y2="3020.3" stroke="#000" stroke-width="6.2"/>
<line x1="380.7" y1="3209.7" x2="408.9" y2="3209.7" stroke="#000" stroke-width="6.2"/>
<line x1="380.7" y1="3399.4" x2="408.9" y2="3399.4" stroke="#000" stroke-width="6.2"/>
<line x1="380.7" y1="3589.2" x2="408.9" y2="3589.2" stroke="#000" stroke-width="6.2"/>
<line x1="380.7" y1="3779.9" x2="408.9" y2="3779.9" stroke="#000" stroke-width="6.2"/>
<line x1="380.7" y1="3970.1" x2="408.9" y2="3970.1" stroke="#000" stroke-width="6.2"/>
<line x1="767.52" y1="4162.7" x2="767.52" y2="4188.3" stroke="#000" stroke-width="6.2"/>
<line x1="1126.14" y1="4162.7" x2="1126.14" y2="4188.3" stroke="#000" stroke-width="6.2"/>
<line x1="1484.76" y1="4162.7" x2="1484.76" y2="4188.3" stroke="#000" stroke-width="6.2"/>
<line x1="1843.38" y1="4162.7" x2="1843.38" y2="4188.3" stroke="#000" stroke-width="6.2"/>
<line x1="2202" y1="4162.7" x2="2202" y2="4188.3" stroke="#000" stroke-width="6.2"/>
<line x1="405.8" y1="3121.5" x2="1778" y2="3121.5" stroke="#000" stroke-width="6" stroke-dasharray="50.6 19"/>
<line x1="408.9" y1="3247.7" x2="1778" y2="3247.7" stroke="#000" stroke-width="6"/>
<line x1="405.8" y1="3602" x2="1778" y2="3602" stroke="#000" stroke-width="6" stroke-dasharray="50.6 19"/>
<line x1="405.8" y1="3907" x2="1778" y2="3907" stroke="#000" stroke-width="6" stroke-dasharray="50.6 19"/>
<text transform="translate(165.06,3043.48) scale(1.0079,1)" font-size="82.22" font-family='"Liberation Serif", serif' stroke="#000" stroke-width="0.9">4500</text>
<text transform="translate(165.06,3232.88) scale(1.0079,1)" font-size="82.22" font-family='"Liberation Serif", serif' stroke="#000" stroke-width="0.9">3750</text>
<text transform="translate(165.06,3422.58) scale(1.0079,1)" font-size="82.22" font-family='"Liberation Serif", serif' stroke="#000" stroke-width="0.9">3000</text>
<text transform="translate(165.06,3612.38) scale(1.0079,1)" font-size="82.22" font-family='"Liberation Serif", serif' stroke="#000" stroke-width="0.9">2250</text>
<text transform="translate(165.06,3803.08) scale(1.0079,1)" font-size="82.22" font-family='"Liberation Serif", serif' stroke="#000" stroke-width="0.9">1500</text>
<text transform="translate(206.5,3993.28) scale(1.0079,1)" font-size="82.22" font-family='"Liberation Serif", serif' stroke="#000" stroke-width="0.9">750</text>
<text transform="translate(289.37,4185.88) scale(1.0079,1)" font-size="82.22" font-family='"Liberation Serif", serif' stroke="#000" stroke-width="0.9">0</text>
<text transform="translate(332.67,4300.38) scale(1.0079,1)" font-size="82.22" font-family='"Liberation Serif", serif' stroke="#000" stroke-width="0.9">-120</text>
<text transform="translate(748,4300.38) scale(1.0079,1)" font-size="82.22" font-family='"Liberation Serif", serif' stroke="#000" stroke-width="0.9">0</text>
<text transform="translate(1063.91,4300.38) scale(1.0079,1)" font-size="82.22" font-family='"Liberation Serif", serif' stroke="#000" stroke-width="0.9">120</text>
<text transform="translate(1422.6,4300.38) scale(1.0079,1)" font-size="82.22" font-family='"Liberation Serif", serif' stroke="#000" stroke-width="0.9">240</text>
<text transform="translate(1783.71,4300.38) scale(1.0079,1)" font-size="82.22" font-family='"Liberation Serif", serif' stroke="#000" stroke-width="0.9">360</text>
<text transform="translate(2144.37,4300.38) scale(1.0079,1)" font-size="82.22" font-family='"Liberation Serif", serif' stroke="#000" stroke-width="0.9">480</text>
<text transform="translate(1162.47,4404.2) scale(1.0259,1)" font-size="82.44" font-family='"Liberation Serif", serif' fill="#000" stroke="#000" stroke-width="0.9">Time (s)</text>
<text transform="translate(494.25,3064.6) scale(1.0495,1)" font-size="81.36" font-family='"Liberation Serif", serif' fill="#000" stroke="#000" stroke-width="0.9">VO</text>
<text transform="translate(612.27,3080.4) scale(1.0788,1)" font-size="56.15" font-family='"Liberation Serif", serif' fill="#000" stroke="#000" stroke-width="0.9">2peak</text>
<text transform="translate(518.13,3343.1) scale(1.0056,1)" font-size="81.96" font-family='"Liberation Serif", serif' fill="#000" stroke="#000" stroke-width="0.9">RCP</text>
<text transform="translate(505.09,3698.8) scale(0.9808,1)" font-size="84.38" font-family='"Liberation Serif", serif' fill="#000" stroke="#000" stroke-width="0.9">GET</text>
<text transform="translate(542.05,3998.9) scale(1.0418,1)" font-size="81.96" font-family='"Liberation Serif", serif' fill="#000" stroke="#000" stroke-width="0.9">VO</text>
<text transform="translate(659.97,4014.6) scale(1.1219,1)" font-size="56.15" font-family='"Liberation Serif", serif' fill="#000" stroke="#000" stroke-width="0.9">2b</text>
<text transform="translate(98.7,3819.13) rotate(-90) scale(1.0175,1)" font-size="81.87" font-family='"Liberation Serif", serif' stroke="#000" stroke-width="0.9">VO</text>
<text transform="translate(115.3,3700.17) rotate(-90) scale(1.1345,1)" font-size="56.19" font-family='"Liberation Serif", serif' stroke="#000" stroke-width="0.9">2</text>
<text transform="translate(98.7,3652.2) rotate(-90) scale(0.9502,1)" font-size="81.87" font-family='"Liberation Serif", serif' stroke="#000" stroke-width="0.9">(l</text>
<text transform="translate(98.7,3586.58) rotate(-90) scale(0.9979,1)" font-size="81.87" font-family='"Liberation Serif", serif' stroke="#000" stroke-width="0.9">·</text>
<text transform="translate(98.7,3541.84) rotate(-90) scale(1.1250,1)" font-size="81.87" font-family='"Liberation Serif", serif' stroke="#000" stroke-width="0.9">min</text>
<text transform="translate(75.2,3383.01) rotate(-90) scale(0.8111,1)" font-size="56.19" font-family='"Liberation Serif", serif' stroke="#000" stroke-width="0.9">-1</text>
<text transform="translate(98.7,3339.02) rotate(-90) scale(0.8728,1)" font-size="81.87" font-family='"Liberation Serif", serif' stroke="#000" stroke-width="0.9">)</text>
<g fill="none" stroke="#222" stroke-width="4.4">
<circle cx="766.3" cy="3907.6" r="16.2"/><circle cx="768.7" cy="3902.2" r="16.2"/><circle cx="770.5" cy="3896.8" r="16.2"/><circle cx="771.9" cy="3890.4" r="16.2"/><circle cx="774.6" cy="3885.1" r="16.2"/><circle cx="776.1" cy="3877.9" r="16.2"/><circle cx="777.9" cy="3873.8" r="16.2"/><circle cx="779.5" cy="3866.7" r="16.2"/><circle cx="782.4" cy="3861.2" r="16.2"/><circle cx="783.0" cy="3858.0" r="16.2"/><circle cx="786.5" cy="3845.8" r="16.2"/><circle cx="791.0" cy="3830.0" r="16.2"/><circle cx="794.4" cy="3815.3" r="16.2"/><circle cx="797.8" cy="3801.7" r="16.2"/><circle cx="800.1" cy="3789.3" r="16.2"/><circle cx="801.2" cy="3770.1" r="16.2"/><circle cx="803.5" cy="3753.1" r="16.2"/><circle cx="805.7" cy="3744.1" r="16.2"/><circle cx="807.0" cy="3733.0" r="16.2"/><circle cx="809.4" cy="3724.5" r="16.2"/><circle cx="809.2" cy="3719.6" r="16.2"/><circle cx="814.4" cy="3714.6" r="16.2"/><circle cx="820.9" cy="3720.2" r="16.2"/><circle cx="827.7" cy="3720.8" r="16.2"/><circle cx="830.6" cy="3714.1" r="16.2"/><circle cx="832.0" cy="3708.6" r="16.2"/><circle cx="834.0" cy="3701.1" r="16.2"/><circle cx="835.9" cy="3691.1" r="16.2"/><circle cx="837.9" cy="3685.2" r="16.2"/><circle cx="838.3" cy="3676.6" r="16.2"/><circle cx="840.7" cy="3670.2" r="16.2"/><circle cx="842.5" cy="3663.3" r="16.2"/><circle cx="844.1" cy="3655.3" r="16.2"/><circle cx="844.6" cy="3647.6" r="16.2"/><circle cx="844.6" cy="3641.2" r="16.2"/><circle cx="849.4" cy="3635.1" r="16.2"/><circle cx="857.8" cy="3632.8" r="16.2"/><circle cx="862.9" cy="3629.9" r="16.2"/><circle cx="866.3" cy="3620.9" r="16.2"/><circle cx="866.3" cy="3614.4" r="16.2"/><circle cx="867.3" cy="3608.0" r="16.2"/><circle cx="869.2" cy="3599.2" r="16.2"/><circle cx="870.0" cy="3591.9" r="16.2"/><circle cx="871.9" cy="3583.1" r="16.2"/><circle cx="872.0" cy="3576.3" r="16.2"/><circle cx="872.8" cy="3568.5" r="16.2"/><circle cx="874.2" cy="3560.4" r="16.2"/><circle cx="875.9" cy="3553.1" r="16.2"/><circle cx="876.9" cy="3547.3" r="16.2"/><circle cx="880.0" cy="3538.4" r="16.2"/><circle cx="882.9" cy="3532.8" r="16.2"/><circle cx="886.9" cy="3524.6" r="16.2"/><circle cx="888.9" cy="3516.4" r="16.2"/><circle cx="892.2" cy="3509.4" r="16.2"/><circle cx="893.1" cy="3502.5" r="16.2"/><circle cx="894.0" cy="3495.0" r="16.2"/><circle cx="895.4" cy="3486.7" r="16.2"/><circle cx="899.0" cy="3482.0" r="16.2"/><circle cx="904.7" cy="3476.0" r="16.2"/><circle cx="912.3" cy="3474.8" r="16.2"/><circle cx="915.2" cy="3470.7" r="16.2"/><circle cx="917.9" cy="3462.1" r="16.2"/><circle cx="919.4" cy="3454.8" r="16.2"/><circle cx="921.2" cy="3447.9" r="16.2"/><circle cx="925.7" cy="3441.8" r="16.2"/><circle cx="928.4" cy="3435.0" r="16.2"/><circle cx="931.1" cy="3426.7" r="16.2"/><circle cx="932.6" cy="3420.6" r="16.2"/><circle cx="933.2" cy="3413.4" r="16.2"/><circle cx="934.0" cy="3404.3" r="16.2"/><circle cx="934.6" cy="3402.0" r="16.2"/><circle cx="937.2" cy="3397.8" r="16.2"/><circle cx="937.3" cy="3396.0" r="16.2"/><circle cx="940.1" cy="3391.5" r="16.2"/><circle cx="940.5" cy="3387.1" r="16.2"/><circle cx="940.4" cy="3384.5" r="16.2"/><circle cx="943.2" cy="3379.9" r="16.2"/><circle cx="945.0" cy="3377.3" r="16.2"/><circle cx="944.9" cy="3373.4" r="16.2"/><circle cx="948.4" cy="3373.4" r="16.2"/><circle cx="949.8" cy="3369.9" r="16.2"/><circle cx="950.0" cy="3366.2" r="16.2"/><circle cx="954.5" cy="3364.9" r="16.2"/><circle cx="958.9" cy="3367.1" r="16.2"/><circle cx="959.8" cy="3370.8" r="16.2"/><circle cx="962.5" cy="3373.2" r="16.2"/><circle cx="966.1" cy="3373.7" r="16.2"/><circle cx="968.5" cy="3375.5" r="16.2"/><circle cx="971.0" cy="3375.4" r="16.2"/><circle cx="975.8" cy="3377.9" r="16.2"/><circle cx="978.9" cy="3378.7" r="16.2"/><circle cx="982.3" cy="3380.3" r="16.2"/><circle cx="983.4" cy="3376.7" r="16.2"/><circle cx="984.3" cy="3373.3" r="16.2"/><circle cx="984.3" cy="3369.0" r="16.2"/><circle cx="987.2" cy="3364.5" r="16.2"/><circle cx="988.5" cy="3364.2" r="16.2"/><circle cx="988.2" cy="3358.6" r="16.2"/><circle cx="989.4" cy="3355.4" r="16.2"/><circle cx="992.0" cy="3352.1" r="16.2"/><circle cx="990.7" cy="3347.6" r="16.2"/><circle cx="994.0" cy="3348.4" r="16.2"/><circle cx="995.4" cy="3343.4" r="16.2"/><circle cx="997.6" cy="3341.8" r="16.2"/><circle cx="998.9" cy="3338.5" r="16.2"/><circle cx="1001.9" cy="3335.9" r="16.2"/><circle cx="1003.3" cy="3331.3" r="16.2"/><circle cx="1006.1" cy="3332.2" r="16.2"/><circle cx="1008.7" cy="3328.5" r="16.2"/><circle cx="1011.5" cy="3324.5" r="16.2"/><circle cx="1014.1" cy="3326.5" r="16.2"/><circle cx="1019.3" cy="3324.6" r="16.2"/><circle cx="1022.3" cy="3327.0" r="16.2"/><circle cx="1026.0" cy="3329.9" r="16.2"/><circle cx="1027.6" cy="3331.8" r="16.2"/><circle cx="1031.9" cy="3331.9" r="16.2"/><circle cx="1034.7" cy="3333.1" r="16.2"/><circle cx="1036.6" cy="3333.3" r="16.2"/><circle cx="1041.3" cy="3333.1" r="16.2"/><circle cx="1042.1" cy="3334.3" r="16.2"/><circle cx="1046.3" cy="3330.3" r="16.2"/><circle cx="1048.5" cy="3325.6" r="16.2"/><circle cx="1048.8" cy="3323.7" r="16.2"/><circle cx="1050.8" cy="3320.2" r="16.2"/><circle cx="1051.5" cy="3317.8" r="16.2"/><circle cx="1055.3" cy="3317.6" r="16.2"/><circle cx="1056.4" cy="3312.3" r="16.2"/><circle cx="1056.6" cy="3311.4" r="16.2"/><circle cx="1059.0" cy="3307.3" r="16.2"/><circle cx="1059.4" cy="3302.0" r="16.2"/><circle cx="1063.3" cy="3301.6" r="16.2"/><circle cx="1065.4" cy="3298.0" r="16.2"/><circle cx="1066.6" cy="3295.4" r="16.2"/><circle cx="1070.1" cy="3291.7" r="16.2"/><circle cx="1071.6" cy="3289.1" r="16.2"/><circle cx="1074.6" cy="3285.5" r="16.2"/><circle cx="1076.8" cy="3287.2" r="16.2"/><circle cx="1077.6" cy="3283.2" r="16.2"/><circle cx="1081.9" cy="3282.2" r="16.2"/><circle cx="1084.5" cy="3277.6" r="16.2"/><circle cx="1087.1" cy="3279.1" r="16.2"/><circle cx="1091.7" cy="3274.5" r="16.2"/><circle cx="1093.0" cy="3274.5" r="16.2"/><circle cx="1095.7" cy="3277.8" r="16.2"/><circle cx="1098.6" cy="3281.9" r="16.2"/><circle cx="1102.3" cy="3281.2" r="16.2"/><circle cx="1104.3" cy="3284.6" r="16.2"/><circle cx="1106.4" cy="3286.7" r="16.2"/><circle cx="1108.0" cy="3289.0" r="16.2"/><circle cx="1111.3" cy="3293.3" r="16.2"/><circle cx="1115.0" cy="3291.3" r="16.2"/><circle cx="1118.7" cy="3294.0" r="16.2"/><circle cx="1121.7" cy="3291.7" r="16.2"/><circle cx="1122.2" cy="3287.9" r="16.2"/><circle cx="1124.6" cy="3286.7" r="16.2"/><circle cx="1127.1" cy="3283.8" r="16.2"/><circle cx="1129.5" cy="3281.1" r="16.2"/><circle cx="1131.9" cy="3275.6" r="16.2"/><circle cx="1134.5" cy="3274.2" r="16.2"/><circle cx="1138.4" cy="3271.8" r="16.2"/><circle cx="1140.2" cy="3271.2" r="16.2"/><circle cx="1144.7" cy="3268.6" r="16.2"/><circle cx="1147.0" cy="3271.5" r="16.2"/><circle cx="1150.1" cy="3275.6" r="16.2"/><circle cx="1151.3" cy="3276.9" r="16.2"/><circle cx="1154.0" cy="3279.0" r="16.2"/><circle cx="1154.8" cy="3282.9" r="16.2"/><circle cx="1159.0" cy="3283.8" r="16.2"/><circle cx="1158.4" cy="3290.0" r="16.2"/><circle cx="1158.7" cy="3289.3" r="16.2"/><circle cx="1159.3" cy="3295.9" r="16.2"/><circle cx="1161.8" cy="3297.6" r="16.2"/><circle cx="1162.2" cy="3299.2" r="16.2"/><circle cx="1162.9" cy="3304.5" r="16.2"/><circle cx="1163.3" cy="3307.7" r="16.2"/><circle cx="1163.7" cy="3310.4" r="16.2"/><circle cx="1163.6" cy="3314.7" r="16.2"/><circle cx="1165.1" cy="3319.2" r="16.2"/><circle cx="1168.0" cy="3322.4" r="16.2"/><circle cx="1169.6" cy="3319.3" r="16.2"/><circle cx="1170.9" cy="3317.2" r="16.2"/><circle cx="1172.7" cy="3316.1" r="16.2"/><circle cx="1172.3" cy="3310.6" r="16.2"/><circle cx="1174.4" cy="3308.4" r="16.2"/><circle cx="1176.5" cy="3305.4" r="16.2"/><circle cx="1177.0" cy="3302.0" r="16.2"/><circle cx="1178.6" cy="3299.4" r="16.2"/><circle cx="1181.5" cy="3296.6" r="16.2"/><circle cx="1183.3" cy="3296.2" r="16.2"/><circle cx="1186.9" cy="3293.8" r="16.2"/><circle cx="1191.5" cy="3295.1" r="16.2"/><circle cx="1194.8" cy="3292.7" r="16.2"/><circle cx="1195.4" cy="3296.6" r="16.2"/><circle cx="1197.7" cy="3298.7" r="16.2"/><circle cx="1200.2" cy="3301.1" r="16.2"/><circle cx="1201.9" cy="3307.3" r="16.2"/><circle cx="1206.2" cy="3306.3" r="16.2"/><circle cx="1207.6" cy="3307.0" r="16.2"/><circle cx="1211.6" cy="3301.2" r="16.2"/><circle cx="1212.6" cy="3300.4" r="16.2"/><circle cx="1215.4" cy="3295.7" r="16.2"/><circle cx="1217.8" cy="3293.1" r="16.2"/><circle cx="1217.7" cy="3292.3" r="16.2"/><circle cx="1219.0" cy="3288.6" r="16.2"/><circle cx="1220.9" cy="3285.2" r="16.2"/><circle cx="1222.9" cy="3281.3" r="16.2"/><circle cx="1226.4" cy="3278.8" r="16.2"/><circle cx="1226.6" cy="3276.4" r="16.2"/><circle cx="1227.7" cy="3271.3" r="16.2"/><circle cx="1229.3" cy="3268.6" r="16.2"/><circle cx="1230.3" cy="3268.5" r="16.2"/><circle cx="1231.5" cy="3264.8" r="16.2"/><circle cx="1235.8" cy="3261.4" r="16.2"/><circle cx="1236.3" cy="3259.0" r="16.2"/><circle cx="1239.4" cy="3261.0" r="16.2"/><circle cx="1243.5" cy="3261.8" r="16.2"/><circle cx="1243.8" cy="3265.9" r="16.2"/><circle cx="1245.9" cy="3267.8" r="16.2"/><circle cx="1248.8" cy="3273.2" r="16.2"/><circle cx="1250.5" cy="3272.7" r="16.2"/><circle cx="1253.8" cy="3278.4" r="16.2"/><circle cx="1255.6" cy="3277.2" r="16.2"/><circle cx="1258.0" cy="3279.5" r="16.2"/><circle cx="1262.1" cy="3277.5" r="16.2"/><circle cx="1265.5" cy="3278.2" r="16.2"/><circle cx="1268.2" cy="3275.9" r="16.2"/><circle cx="1267.9" cy="3271.9" r="16.2"/><circle cx="1270.1" cy="3270.5" r="16.2"/><circle cx="1273.9" cy="3267.0" r="16.2"/><circle cx="1274.3" cy="3261.1" r="16.2"/><circle cx="1277.8" cy="3260.6" r="16.2"/><circle cx="1279.2" cy="3257.1" r="16.2"/><circle cx="1281.6" cy="3253.7" r="16.2"/><circle cx="1282.3" cy="3251.0" r="16.2"/><circle cx="1284.6" cy="3249.6" r="16.2"/><circle cx="1288.6" cy="3244.7" r="16.2"/><circle cx="1289.2" cy="3244.7" r="16.2"/><circle cx="1294.1" cy="3242.1" r="16.2"/><circle cx="1296.3" cy="3240.7" r="16.2"/><circle cx="1299.0" cy="3241.8" r="16.2"/><circle cx="1304.1" cy="3241.8" r="16.2"/><circle cx="1306.1" cy="3238.8" r="16.2"/><circle cx="1311.5" cy="3240.3" r="16.2"/><circle cx="1313.6" cy="3240.8" r="16.2"/><circle cx="1317.3" cy="3241.7" r="16.2"/><circle cx="1317.2" cy="3246.0" r="16.2"/><circle cx="1318.9" cy="3245.8" r="16.2"/><circle cx="1320.5" cy="3251.3" r="16.2"/><circle cx="1322.3" cy="3253.0" r="16.2"/><circle cx="1323.7" cy="3257.7" r="16.2"/><circle cx="1323.5" cy="3262.5" r="16.2"/><circle cx="1326.5" cy="3266.0" r="16.2"/><circle cx="1327.8" cy="3266.0" r="16.2"/><circle cx="1330.8" cy="3270.4" r="16.2"/><circle cx="1332.3" cy="3267.7" r="16.2"/><circle cx="1334.8" cy="3262.2" r="16.2"/><circle cx="1335.9" cy="3261.3" r="16.2"/><circle cx="1336.5" cy="3253.9" r="16.2"/><circle cx="1336.4" cy="3253.2" r="16.2"/><circle cx="1338.0" cy="3250.4" r="16.2"/><circle cx="1339.1" cy="3244.5" r="16.2"/><circle cx="1340.9" cy="3242.9" r="16.2"/><circle cx="1342.0" cy="3238.1" r="16.2"/><circle cx="1343.8" cy="3236.5" r="16.2"/><circle cx="1345.9" cy="3235.6" r="16.2"/><circle cx="1349.3" cy="3235.2" r="16.2"/><circle cx="1349.8" cy="3237.6" r="16.2"/><circle cx="1352.5" cy="3240.7" r="16.2"/><circle cx="1356.5" cy="3242.4" r="16.2"/><circle cx="1357.2" cy="3243.3" r="16.2"/><circle cx="1360.7" cy="3247.7" r="16.2"/><circle cx="1362.9" cy="3248.3" r="16.2"/><circle cx="1364.8" cy="3242.7" r="16.2"/><circle cx="1367.6" cy="3241.2" r="16.2"/><circle cx="1368.2" cy="3237.8" r="16.2"/><circle cx="1366.9" cy="3233.2" r="16.2"/><circle cx="1368.4" cy="3231.4" r="16.2"/><circle cx="1370.0" cy="3228.3" r="16.2"/><circle cx="1370.4" cy="3222.6" r="16.2"/><circle cx="1370.6" cy="3219.7" r="16.2"/><circle cx="1371.6" cy="3215.8" r="16.2"/><circle cx="1372.8" cy="3213.3" r="16.2"/><circle cx="1374.1" cy="3213.7" r="16.2"/><circle cx="1378.3" cy="3215.6" r="16.2"/><circle cx="1380.9" cy="3217.8" r="16.2"/><circle cx="1383.7" cy="3219.0" r="16.2"/><circle cx="1384.3" cy="3220.1" r="16.2"/><circle cx="1387.4" cy="3225.0" r="16.2"/><circle cx="1390.3" cy="3228.2" r="16.2"/><circle cx="1392.2" cy="3223.2" r="16.2"/><circle cx="1395.8" cy="3223.1" r="16.2"/><circle cx="1396.9" cy="3216.8" r="16.2"/><circle cx="1398.3" cy="3217.3" r="16.2"/><circle cx="1400.2" cy="3212.6" r="16.2"/><circle cx="1401.6" cy="3210.3" r="16.2"/><circle cx="1404.0" cy="3207.7" r="16.2"/><circle cx="1406.8" cy="3205.2" r="16.2"/><circle cx="1408.3" cy="3201.2" r="16.2"/><circle cx="1412.4" cy="3204.9" r="16.2"/><circle cx="1415.1" cy="3204.8" r="16.2"/><circle cx="1416.8" cy="3210.7" r="16.2"/><circle cx="1416.7" cy="3211.0" r="16.2"/><circle cx="1420.2" cy="3213.1" r="16.2"/><circle cx="1423.1" cy="3216.0" r="16.2"/><circle cx="1425.8" cy="3216.4" r="16.2"/><circle cx="1426.3" cy="3213.1" r="16.2"/><circle cx="1428.2" cy="3212.1" r="16.2"/><circle cx="1428.5" cy="3208.7" r="16.2"/><circle cx="1429.7" cy="3205.2" r="16.2"/><circle cx="1430.7" cy="3199.8" r="16.2"/><circle cx="1430.9" cy="3195.9" r="16.2"/><circle cx="1433.1" cy="3194.0" r="16.2"/><circle cx="1432.4" cy="3192.7" r="16.2"/><circle cx="1434.5" cy="3185.6" r="16.2"/><circle cx="1435.5" cy="3184.6" r="16.2"/><circle cx="1435.6" cy="3180.7" r="16.2"/><circle cx="1437.7" cy="3176.8" r="16.2"/><circle cx="1437.7" cy="3174.7" r="16.2"/><circle cx="1437.9" cy="3170.0" r="16.2"/><circle cx="1440.1" cy="3168.0" r="16.2"/><circle cx="1440.6" cy="3164.3" r="16.2"/><circle cx="1442.4" cy="3163.3" r="16.2"/><circle cx="1444.5" cy="3164.7" r="16.2"/><circle cx="1447.5" cy="3165.8" r="16.2"/><circle cx="1449.3" cy="3170.5" r="16.2"/><circle cx="1449.4" cy="3173.3" r="16.2"/><circle cx="1451.0" cy="3177.7" r="16.2"/><circle cx="1452.9" cy="3178.8" r="16.2"/><circle cx="1454.4" cy="3180.5" r="16.2"/><circle cx="1456.9" cy="3183.0" r="16.2"/><circle cx="1460.8" cy="3184.3" r="16.2"/><circle cx="1461.5" cy="3178.0" r="16.2"/><circle cx="1463.6" cy="3174.8" r="16.2"/><circle cx="1464.4" cy="3174.4" r="16.2"/><circle cx="1464.9" cy="3170.9" r="16.2"/><circle cx="1466.8" cy="3164.9" r="16.2"/><circle cx="1467.0" cy="3163.8" r="16.2"/><circle cx="1467.5" cy="3158.7" r="16.2"/><circle cx="1469.8" cy="3158.0" r="16.2"/><circle cx="1470.6" cy="3153.9" r="16.2"/><circle cx="1470.2" cy="3148.9" r="16.2"/><circle cx="1472.0" cy="3148.2" r="16.2"/><circle cx="1473.1" cy="3144.2" r="16.2"/><circle cx="1473.4" cy="3139.7" r="16.2"/><circle cx="1476.9" cy="3137.6" r="16.2"/><circle cx="1477.5" cy="3131.9" r="16.2"/><circle cx="1480.5" cy="3128.7" r="16.2"/><circle cx="1483.7" cy="3131.9" r="16.2"/><circle cx="1485.5" cy="3133.2" r="16.2"/><circle cx="1486.0" cy="3135.2" r="16.2"/><circle cx="1489.1" cy="3139.5" r="16.2"/><circle cx="1490.3" cy="3143.0" r="16.2"/><circle cx="1491.5" cy="3143.4" r="16.2"/><circle cx="1494.4" cy="3145.4" r="16.2"/><circle cx="1499.4" cy="3146.1" r="16.2"/><circle cx="1500.0" cy="3141.6" r="16.2"/><circle cx="1501.8" cy="3140.4" r="16.2"/><circle cx="1504.4" cy="3135.5" r="16.2"/><circle cx="1505.9" cy="3135.2" r="16.2"/><circle cx="1507.6" cy="3131.4" r="16.2"/><circle cx="1509.8" cy="3127.4" r="16.2"/><circle cx="1511.3" cy="3123.9" r="16.2"/><circle cx="1512.3" cy="3121.6" r="16.2"/><circle cx="1514.8" cy="3118.3" r="16.2"/><circle cx="1517.5" cy="3119.4" r="16.2"/><circle cx="1521.5" cy="3116.5" r="16.2"/><circle cx="1523.9" cy="3117.0" r="16.2"/><circle cx="1529.4" cy="3118.3" r="16.2"/><circle cx="1532.2" cy="3118.7" r="16.2"/><circle cx="1535.4" cy="3120.6" r="16.2"/><circle cx="1539.0" cy="3121.9" r="16.2"/><circle cx="1541.3" cy="3121.7" r="16.2"/><circle cx="1545.1" cy="3125.2" r="16.2"/><circle cx="1548.6" cy="3124.8" r="16.2"/><circle cx="1550.8" cy="3127.9" r="16.2"/><circle cx="1555.4" cy="3125.8" r="16.2"/><circle cx="1558.2" cy="3129.6" r="16.2"/><circle cx="1561.6" cy="3131.1" r="16.2"/><circle cx="1565.5" cy="3127.9" r="16.2"/><circle cx="1568.5" cy="3126.2" r="16.2"/><circle cx="1568.9" cy="3126.3" r="16.2"/><circle cx="1570.0" cy="3120.8" r="16.2"/><circle cx="1572.8" cy="3117.2" r="16.2"/><circle cx="1573.3" cy="3116.3" r="16.2"/><circle cx="1575.7" cy="3113.0" r="16.2"/><circle cx="1577.6" cy="3110.5" r="16.2"/><circle cx="1579.4" cy="3107.1" r="16.2"/><circle cx="1581.3" cy="3102.7" r="16.2"/><circle cx="1582.5" cy="3099.9" r="16.2"/><circle cx="1585.6" cy="3098.1" r="16.2"/><circle cx="1587.4" cy="3097.9" r="16.2"/><circle cx="1589.6" cy="3097.9" r="16.2"/><circle cx="1591.7" cy="3100.8" r="16.2"/><circle cx="1592.3" cy="3103.6" r="16.2"/><circle cx="1595.0" cy="3109.7" r="16.2"/><circle cx="1595.3" cy="3112.3" r="16.2"/><circle cx="1596.7" cy="3114.9" r="16.2"/><circle cx="1598.5" cy="3117.9" r="16.2"/><circle cx="1600.9" cy="3121.1" r="16.2"/><circle cx="1601.4" cy="3125.7" r="16.2"/><circle cx="1602.0" cy="3127.3" r="16.2"/><circle cx="1604.9" cy="3132.6" r="16.2"/><circle cx="1607.2" cy="3133.1" r="16.2"/><circle cx="1607.9" cy="3136.3" r="16.2"/><circle cx="1610.2" cy="3141.3" r="16.2"/><circle cx="1611.7" cy="3140.6" r="16.2"/><circle cx="1616.7" cy="3138.9" r="16.2"/><circle cx="1617.9" cy="3138.2" r="16.2"/><circle cx="1618.6" cy="3135.0" r="16.2"/><circle cx="1619.4" cy="3130.0" r="16.2"/><circle cx="1621.2" cy="3126.9" r="16.2"/><circle cx="1622.7" cy="3122.3" r="16.2"/><circle cx="1625.7" cy="3119.8" r="16.2"/><circle cx="1626.6" cy="3118.4" r="16.2"/><circle cx="1628.9" cy="3116.6" r="16.2"/><circle cx="1630.2" cy="3110.8" r="16.2"/><circle cx="1633.2" cy="3108.3" r="16.2"/><circle cx="1635.9" cy="3111.3" r="16.2"/><circle cx="1635.0" cy="3114.4" r="16.2"/><circle cx="1636.2" cy="3120.5" r="16.2"/><circle cx="1638.0" cy="3123.8" r="16.2"/><circle cx="1638.3" cy="3125.1" r="16.2"/><circle cx="1637.8" cy="3128.8" r="16.2"/><circle cx="1638.6" cy="3134.8" r="16.2"/><circle cx="1640.7" cy="3134.9" r="16.2"/><circle cx="1641.1" cy="3142.0" r="16.2"/><circle cx="1640.3" cy="3144.4" r="16.2"/><circle cx="1641.8" cy="3145.6" r="16.2"/><circle cx="1642.0" cy="3152.5" r="16.2"/><circle cx="1643.5" cy="3155.5" r="16.2"/><circle cx="1642.4" cy="3158.0" r="16.2"/><circle cx="1646.2" cy="3159.9" r="16.2"/><circle cx="1648.6" cy="3157.1" r="16.2"/><circle cx="1651.3" cy="3156.3" r="16.2"/><circle cx="1655.5" cy="3150.6" r="16.2"/><circle cx="1656.8" cy="3148.7" r="16.2"/><circle cx="1660.1" cy="3148.4" r="16.2"/><circle cx="1661.0" cy="3147.4" r="16.2"/><circle cx="1665.8" cy="3142.7" r="16.2"/><circle cx="1667.4" cy="3140.1" r="16.2"/><circle cx="1670.3" cy="3138.3" r="16.2"/><circle cx="1672.7" cy="3138.0" r="16.2"/><circle cx="1675.0" cy="3134.1" r="16.2"/><circle cx="1679.4" cy="3132.0" r="16.2"/><circle cx="1680.5" cy="3133.3" r="16.2"/><circle cx="1683.8" cy="3129.4" r="16.2"/><circle cx="1687.2" cy="3127.2" r="16.2"/><circle cx="1690.3" cy="3126.8" r="16.2"/><circle cx="1692.8" cy="3125.3" r="16.2"/><circle cx="1695.7" cy="3121.8" r="16.2"/><circle cx="1699.1" cy="3120.9" r="16.2"/><circle cx="1702.5" cy="3119.5" r="16.2"/><circle cx="1706.9" cy="3119.6" r="16.2"/><circle cx="1709.0" cy="3118.6" r="16.2"/><circle cx="1712.7" cy="3115.2" r="16.2"/><circle cx="1715.8" cy="3115.9" r="16.2"/><circle cx="1718.8" cy="3115.0" r="16.2"/><circle cx="1722.5" cy="3115.1" r="16.2"/><circle cx="1724.9" cy="3113.8" r="16.2"/><circle cx="1729.0" cy="3115.5" r="16.2"/><circle cx="1730.0" cy="3116.8" r="16.2"/><circle cx="1730.5" cy="3120.9" r="16.2"/><circle cx="1731.5" cy="3124.9" r="16.2"/><circle cx="1731.8" cy="3127.4" r="16.2"/><circle cx="1731.9" cy="3133.5" r="16.2"/><circle cx="1733.8" cy="3135.8" r="16.2"/><circle cx="1733.3" cy="3137.7" r="16.2"/><circle cx="1736.5" cy="3140.6" r="16.2"/><circle cx="1736.6" cy="3146.0" r="16.2"/><circle cx="1738.5" cy="3148.2" r="16.2"/><circle cx="1742.9" cy="3148.3" r="16.2"/><circle cx="1743.7" cy="3144.5" r="16.2"/><circle cx="1746.4" cy="3143.1" r="16.2"/><circle cx="1749.2" cy="3138.5" r="16.2"/><circle cx="1751.4" cy="3136.5" r="16.2"/><circle cx="1751.8" cy="3133.2" r="16.2"/><circle cx="1755.2" cy="3130.4" r="16.2"/><circle cx="1759.0" cy="3132.3" r="16.2"/><circle cx="1762.9" cy="3131.3" r="16.2"/><circle cx="1765.3" cy="3132.9" r="16.2"/><circle cx="1766.8" cy="3137.4" r="16.2"/><circle cx="1767.3" cy="3137.9" r="16.2"/><circle cx="1770.0" cy="3140.8" r="16.2"/><circle cx="1772.0" cy="3142.4" r="16.2"/><circle cx="1774.5" cy="3149.3" r="16.2"/><circle cx="1775.3" cy="3148.7" r="16.2"/><circle cx="1776.5" cy="3150.7" r="16.2"/>
</g>
<rect x="1939.4" y="3691.3" width="196.7" height="143" fill="#fff" stroke="#000" stroke-width="5"/>
<text transform="translate(2010.19,3790.4) scale(1.1092,1)" font-size="83.62" font-family='"Liberation Serif", serif' fill="#000" stroke="#000" stroke-width="0.9">C</text>
</svg>
</body></html>
